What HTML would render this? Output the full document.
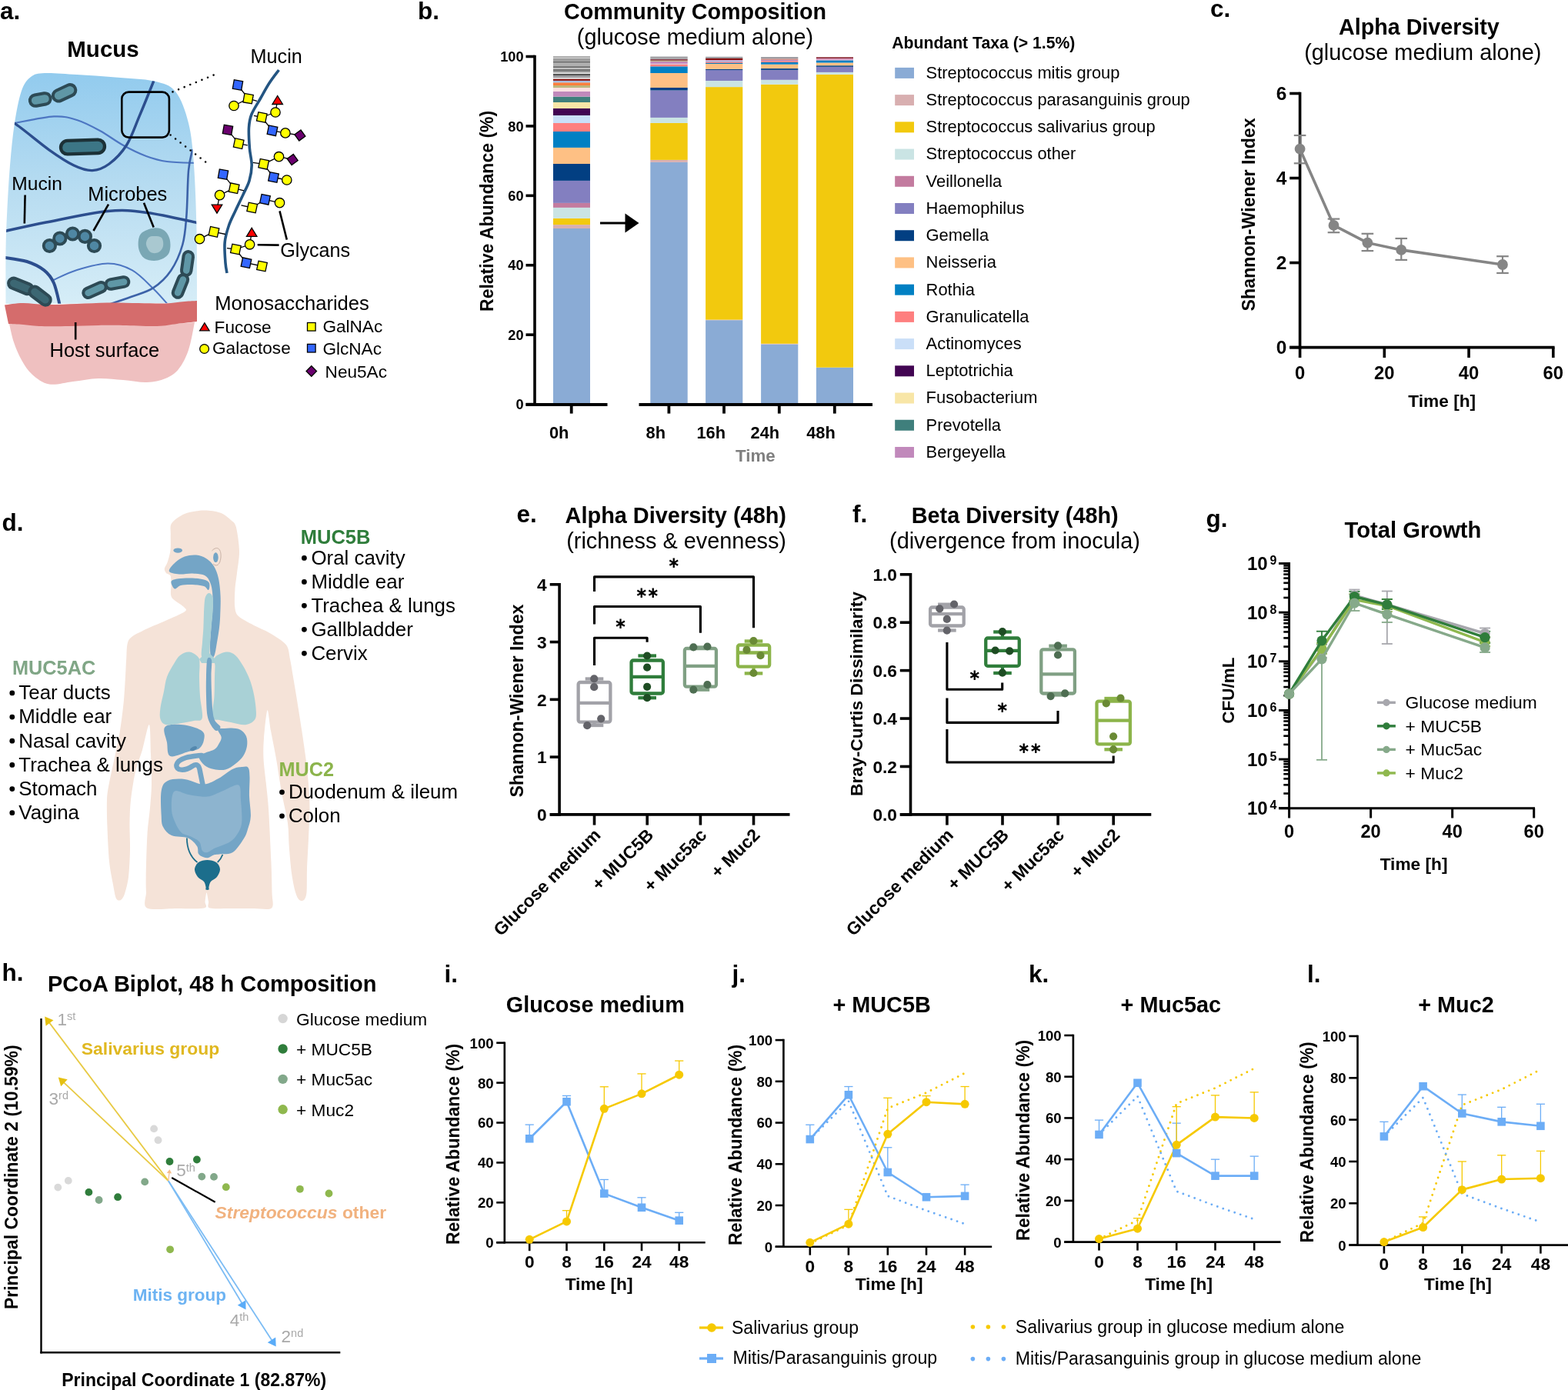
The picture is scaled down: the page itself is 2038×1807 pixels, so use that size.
<!DOCTYPE html>
<html><head><meta charset="utf-8"><title>Figure</title>
<style>
html,body{margin:0;padding:0;background:#fff;}
svg{display:block;}
text{font-family:"Liberation Sans",Arial,Helvetica,sans-serif;}
</style></head>
<body>
<svg xmlns="http://www.w3.org/2000/svg" width="2038" height="1807" viewBox="0 0 2038 1807">
<rect width="2038" height="1807" fill="#fff"/>
<text x="0" y="24.5" font-size="31.5" style="font-weight:bold;">a.</text>
<text x="87.3" y="73.6" font-size="29.5" style="font-weight:bold;">Mucus</text>
<defs><linearGradient id="mg" x1="0" y1="0" x2="0" y2="1"><stop offset="0" stop-color="#92cbee"/><stop offset="0.5" stop-color="#b7dcf1"/><stop offset="1" stop-color="#d6edf7"/></linearGradient><clipPath id="mclip"><path d="M7.5,395 C7.5,384.17 7.25,349.17 7.5,330 C7.75,310.83 8.08,299.17 9,280 C9.92,260.83 11.33,235 13,215 C14.67,195 16.5,176.17 19,160 C21.5,143.83 24.5,128 28,118 C31.5,108 35,103.83 40,100 C45,96.17 48,95.5 58,95 C68,94.5 84.67,96.08 100,97 C115.33,97.92 133.33,99.08 150,100.5 C166.67,101.92 187,102.42 200,105.5 C213,108.58 220.5,109.92 228,119 C235.5,128.08 241,144 245,160 C249,176 250.25,191.67 252,215 C253.75,238.33 254.83,270.17 255.5,300 C256.17,329.83 255.92,378.33 256,394Z"/></clipPath></defs>
<path d="M7.5,395 C7.5,384.17 7.25,349.17 7.5,330 C7.75,310.83 8.08,299.17 9,280 C9.92,260.83 11.33,235 13,215 C14.67,195 16.5,176.17 19,160 C21.5,143.83 24.5,128 28,118 C31.5,108 35,103.83 40,100 C45,96.17 48,95.5 58,95 C68,94.5 84.67,96.08 100,97 C115.33,97.92 133.33,99.08 150,100.5 C166.67,101.92 187,102.42 200,105.5 C213,108.58 220.5,109.92 228,119 C235.5,128.08 241,144 245,160 C249,176 250.25,191.67 252,215 C253.75,238.33 254.83,270.17 255.5,300 C256.17,329.83 255.92,378.33 256,394Z" fill="url(#mg)"/>
<g clip-path="url(#mclip)" fill="none" stroke-linecap="round">
<path d="M19,160 C27.5,158.57 56.5,152.07 70,151.4 C83.5,150.73 90,152.9 100,156 C110,159.1 120.08,164.58 130,170 C139.92,175.42 149.5,183 159.5,188.5 C169.5,194 180.42,199.42 190,203 C199.58,206.58 205.67,208.5 217,210 C228.33,211.5 251.17,211.67 258,212" fill="none" stroke="#4d76c2" stroke-width="2.2"/>
<path d="M69.5,364 C74.58,361.83 88.2,354.58 100,351 C111.8,347.42 128.3,342.43 140.3,342.5 C152.3,342.57 162.05,345.82 172,351.4 C181.95,356.98 192,368.23 200,376 C208,383.77 216.67,394.33 220,398" fill="none" stroke="#4d76c2" stroke-width="2"/>
<path d="M250,195 C249.17,199.5 246.27,207.83 245,222 C243.73,236.17 243.68,264 242.4,280 C241.12,296 240.7,306 237.3,318 C233.9,330 228.38,342.6 222,352 C215.62,361.4 207.67,368.73 199,374.4 C190.33,380.07 180.67,382.07 170,386 C159.33,389.93 140.83,396 135,398" fill="none" stroke="#3c62a8" stroke-width="2.6"/>
<path d="M4,157 C6.5,157.57 9.03,154.1 19,160.4 C28.97,166.7 50.97,185.7 63.8,194.8 C76.63,203.9 86.63,210.53 96,215 C105.37,219.47 112.33,221.93 120,221.6 C127.67,221.27 134.57,218.52 142,213 C149.43,207.48 158.1,198.77 164.6,188.5 C171.1,178.23 175.15,165.23 181,151.4 C186.85,137.57 196.03,114.73 199.7,105.5 C203.37,96.27 202.45,97.58 203,96" fill="none" stroke="#2c4e8e" stroke-width="3.4"/>
<path d="M4,301 C13.33,299 37.33,293.42 60,289 C82.67,284.58 118.1,276.58 140,274.5 C161.9,272.42 171.73,273.92 191.4,276.5 C211.07,279.08 246.9,287.75 258,290" fill="none" stroke="#2c4e8e" stroke-width="3.6"/>
<path d="M4,334.5 C9.17,335.42 26.1,337.18 35,340 C43.9,342.82 51.57,346.73 57.4,351.4 C63.23,356.07 66.57,360.23 70,368 C73.43,375.77 76.67,393 78,398" fill="none" stroke="#2c4e8e" stroke-width="4"/>
</g>
<path d="M12,421 C13,425 15.33,437.17 18,445 C20.67,452.83 24,461 28,468 C32,475 36,481.75 42,487 C48,492.25 55.17,498 64,499.5 C72.83,501 84.4,497.25 95,496 C105.6,494.75 116.77,492.33 127.6,492 C138.43,491.67 149.43,493.17 160,494 C170.57,494.83 181.83,497.33 191,497 C200.17,496.67 208.17,494.83 215,492 C221.83,489.17 227,486.17 232,480 C237,473.83 241.5,465.17 245,455 C248.5,444.83 251.67,425 253,419 L230,421 L12,421Z" fill="#efc0c0"/>
<path d="M6,396.5 C10,396.08 21,394.08 30,394 C39,393.92 48.33,395.83 60,396 C71.67,396.17 86.67,395.42 100,395 C113.33,394.58 126.67,393.67 140,393.5 C153.33,393.33 167.5,393.83 180,394 C192.5,394.17 205,394.83 215,394.5 C225,394.17 233.17,392.58 240,392 C246.83,391.42 253.33,391.17 256,391 L256,418 256,418 C251.67,418.5 238.67,420 230,421 C221.33,422 215.67,423.67 204,424 C192.33,424.33 172.73,423.17 160,423 C147.27,422.83 139.27,422.83 127.6,423 C115.93,423.17 102.77,423.83 90,424 C77.23,424.17 61,424.33 51,424 C41,423.67 36.67,422.5 30,422 C23.33,421.5 14.17,421.17 11,421Z" fill="#d56c6c"/>
<rect x="38.8" y="122.25" width="27" height="14.5" rx="7.25" fill="#5f97a6" stroke="#2d4a55" stroke-width="4" transform="rotate(-10 52.3 129.5)"/>
<rect x="68.1" y="113.55" width="31" height="14.5" rx="7.25" fill="#5f97a6" stroke="#2d4a55" stroke-width="4" transform="rotate(-25 83.6 120.8)"/>
<rect x="79" y="182.25" width="57" height="17.5" rx="8.75" fill="#3c7686" stroke="#1c3137" stroke-width="4.3" transform="rotate(-2 107.5 191)"/>
<circle cx="64.4" cy="319.5" r="7.7" fill="#4f87a3" stroke="#2d4a55" stroke-width="3.8"/>
<circle cx="77.8" cy="310" r="7.7" fill="#4f87a3" stroke="#2d4a55" stroke-width="3.8"/>
<circle cx="94.4" cy="304" r="7.7" fill="#4f87a3" stroke="#2d4a55" stroke-width="3.8"/>
<circle cx="110.4" cy="307.4" r="7.7" fill="#4f87a3" stroke="#2d4a55" stroke-width="3.8"/>
<circle cx="122.5" cy="319.5" r="7.7" fill="#4f87a3" stroke="#2d4a55" stroke-width="3.8"/>
<path d="M200.3,296.5 C205.47,295.83 210.55,297.25 214,300 C217.45,302.75 220.17,308 221,313 C221.83,318 221.67,325.75 219,330 C216.33,334.25 210.17,337.5 205,338.5 C199.83,339.5 192.17,338.75 188,336 C183.83,333.25 180.83,327.33 180,322 C179.17,316.67 179.62,308.25 183,304 C186.38,299.75 195.13,297.17 200.3,296.5Z" fill="#7aa7b4"/>
<path d="M200,307 C202.83,307 208,306.83 210,309 C212,311.17 212.67,316.83 212,320 C211.33,323.17 208.67,326.67 206,328 C203.33,329.33 198.67,329.67 196,328 C193.33,326.33 190.5,321.17 190,318 C189.5,314.83 191.33,310.83 193,309 C194.67,307.17 197.17,307 200,307Z" fill="#a9c8d0"/>
<rect x="10.3" y="365.15" width="33" height="13.5" rx="6.75" fill="#3c6773" stroke="#2d4a55" stroke-width="4" transform="rotate(22 26.8 371.9)"/>
<rect x="36.5" y="377.85" width="31" height="13.5" rx="6.75" fill="#3c6773" stroke="#2d4a55" stroke-width="4" transform="rotate(37 52 384.6)"/>
<rect x="107.5" y="370.75" width="31" height="12.5" rx="6.25" fill="#5f97a6" stroke="#2d4a55" stroke-width="4" transform="rotate(-24 123 377)"/>
<rect x="137.5" y="361.75" width="30" height="12.5" rx="6.25" fill="#5f97a6" stroke="#2d4a55" stroke-width="4" transform="rotate(-10 152.5 368)"/>
<rect x="228" y="336.25" width="31" height="12.5" rx="6.25" fill="#5f97a6" stroke="#2d4a55" stroke-width="4" transform="rotate(-82 243.5 342.5)"/>
<rect x="219" y="365.75" width="31" height="12.5" rx="6.25" fill="#5f97a6" stroke="#2d4a55" stroke-width="4" transform="rotate(-68 234.5 372)"/>
<rect x="158.3" y="119.6" width="61.6" height="59" rx="9" fill="none" stroke="#000" stroke-width="2.6"/>
<line x1="224.5" y1="119.4" x2="281" y2="96.2" stroke="#000" stroke-width="2.6" stroke-linecap="round" stroke-dasharray="0 8.2"/>
<line x1="221.6" y1="175.5" x2="272.5" y2="214.6" stroke="#000" stroke-width="2.6" stroke-linecap="round" stroke-dasharray="0 8.2"/>
<text x="15.3" y="247.2" font-size="24.6">Mucin</text>
<line x1="32.6" y1="253.5" x2="31.8" y2="290.5" stroke="#000" stroke-width="2.6"/>
<text x="114.3" y="261.2" font-size="25.4">Microbes</text>
<line x1="141" y1="265.6" x2="121.5" y2="300" stroke="#000" stroke-width="2.6"/>
<line x1="187" y1="263.7" x2="199.7" y2="295.5" stroke="#000" stroke-width="2.6"/>
<text x="64.6" y="463.7" font-size="25.4">Host surface</text>
<line x1="98.2" y1="419" x2="98.2" y2="441.5" stroke="#000" stroke-width="2.6"/>
<text x="325.6" y="82.1" font-size="25.2">Mucin</text>
<path d="M362.4,91 C360.33,93.83 353.98,101.83 350,108 C346.02,114.17 342.33,121.25 338.5,128 C334.67,134.75 329.5,142.17 327,148.5 C324.5,154.83 323.93,158.62 323.5,166 C323.07,173.38 323.78,184.63 324.4,192.8 C325.02,200.97 327.27,207.97 327.2,215 C327.13,222.03 325.87,228.67 324,235 C322.13,241.33 319,246.5 316,253 C313,259.5 309.08,267.33 306,274 C302.92,280.67 299.8,286.17 297.5,293 C295.2,299.83 292.95,306.88 292.2,315 C291.45,323.12 292.53,335.03 293,341.7 C293.47,348.37 294.67,352.78 295,355" fill="none" stroke="#245582" stroke-width="3.6"/>
<line x1="309" y1="110.5" x2="322.6" y2="128.2" stroke="#000" stroke-width="1.3"/>
<line x1="304" y1="137.5" x2="322.6" y2="128.2" stroke="#000" stroke-width="1.3"/>
<line x1="322.6" y1="128.2" x2="334" y2="131.3" stroke="#000" stroke-width="1.3"/>
<line x1="330" y1="150.3" x2="340.3" y2="152.5" stroke="#000" stroke-width="1.3"/>
<line x1="340.3" y1="152.5" x2="358" y2="146" stroke="#000" stroke-width="1.3"/>
<line x1="358" y1="146" x2="360.7" y2="130" stroke="#000" stroke-width="1.3"/>
<line x1="340.3" y1="152.5" x2="354" y2="169.8" stroke="#000" stroke-width="1.3"/>
<line x1="354" y1="169.8" x2="370.9" y2="172.9" stroke="#000" stroke-width="1.3"/>
<line x1="370.9" y1="172.9" x2="389.9" y2="176" stroke="#000" stroke-width="1.3"/>
<line x1="296" y1="168.9" x2="310.2" y2="186.6" stroke="#000" stroke-width="1.3"/>
<line x1="310.2" y1="186.6" x2="321.7" y2="188.8" stroke="#000" stroke-width="1.3"/>
<line x1="328.8" y1="211.4" x2="342.7" y2="213.3" stroke="#000" stroke-width="1.3"/>
<line x1="342.7" y1="213.3" x2="362.5" y2="203.7" stroke="#000" stroke-width="1.3"/>
<line x1="362.5" y1="203.7" x2="380.2" y2="207.5" stroke="#000" stroke-width="1.3"/>
<line x1="342.7" y1="213.3" x2="355.5" y2="230.5" stroke="#000" stroke-width="1.3"/>
<line x1="355.5" y1="230.5" x2="372.8" y2="234" stroke="#000" stroke-width="1.3"/>
<line x1="290" y1="226.6" x2="304.2" y2="244.7" stroke="#000" stroke-width="1.3"/>
<line x1="285.6" y1="253.6" x2="304.2" y2="244.7" stroke="#000" stroke-width="1.3"/>
<line x1="304.2" y1="244.7" x2="317" y2="247.8" stroke="#000" stroke-width="1.3"/>
<line x1="285.6" y1="253.6" x2="282" y2="271.7" stroke="#000" stroke-width="1.3"/>
<line x1="313.5" y1="266.8" x2="327.7" y2="270" stroke="#000" stroke-width="1.3"/>
<line x1="327.7" y1="270" x2="344.5" y2="259.3" stroke="#000" stroke-width="1.3"/>
<line x1="344.5" y1="259.3" x2="363.5" y2="263.7" stroke="#000" stroke-width="1.3"/>
<line x1="259.5" y1="310.7" x2="278" y2="301.4" stroke="#000" stroke-width="1.3"/>
<line x1="278" y1="301.4" x2="293" y2="304.5" stroke="#000" stroke-width="1.3"/>
<line x1="295" y1="322.6" x2="306.4" y2="324" stroke="#000" stroke-width="1.3"/>
<line x1="306.4" y1="324" x2="324.6" y2="317.8" stroke="#000" stroke-width="1.3"/>
<line x1="324.6" y1="317.8" x2="327.2" y2="301.8" stroke="#000" stroke-width="1.3"/>
<line x1="306.4" y1="324" x2="320" y2="341.7" stroke="#000" stroke-width="1.3"/>
<line x1="320" y1="341.7" x2="340.5" y2="346" stroke="#000" stroke-width="1.3"/>
<rect x="303.25" y="104.75" width="11.5" height="11.5" fill="#3366ff" stroke="#000" stroke-width="1.3" transform="rotate(10 309 110.5)"/>
<rect x="316.85" y="122.45" width="11.5" height="11.5" fill="#ffff00" stroke="#000" stroke-width="1.3" transform="rotate(10 322.6 128.2)"/>
<circle cx="304" cy="137.5" r="6.2" fill="#ffff00" stroke="#000" stroke-width="1.3"/>
<rect x="334.55" y="146.75" width="11.5" height="11.5" fill="#ffff00" stroke="#000" stroke-width="1.3" transform="rotate(12 340.3 152.5)"/>
<circle cx="358" cy="146" r="6.2" fill="#ffff00" stroke="#000" stroke-width="1.3"/>
<polygon points="360.7,124.5 367.45,135.5 353.95,135.5" fill="#ff0000" stroke="#000" stroke-width="1.3"/>
<rect x="348.25" y="164.05" width="11.5" height="11.5" fill="#3366ff" stroke="#000" stroke-width="1.3" transform="rotate(12 354 169.8)"/>
<circle cx="370.9" cy="172.9" r="6.2" fill="#ffff00" stroke="#000" stroke-width="1.3"/>
<rect x="384.9" y="171" width="10" height="10" fill="#6a006e" stroke="#000" stroke-width="1.3" transform="rotate(-36 389.9 176)"/>
<rect x="290.25" y="163.15" width="11.5" height="11.5" fill="#6a006e" stroke="#000" stroke-width="1.3" transform="rotate(10 296 168.9)"/>
<rect x="304.45" y="180.85" width="11.5" height="11.5" fill="#ffff00" stroke="#000" stroke-width="1.3" transform="rotate(12 310.2 186.6)"/>
<rect x="336.95" y="207.55" width="11.5" height="11.5" fill="#ffff00" stroke="#000" stroke-width="1.3" transform="rotate(12 342.7 213.3)"/>
<circle cx="362.5" cy="203.7" r="6.2" fill="#ffff00" stroke="#000" stroke-width="1.3"/>
<rect x="375.2" y="202.5" width="10" height="10" fill="#6a006e" stroke="#000" stroke-width="1.3" transform="rotate(-36 380.2 207.5)"/>
<rect x="349.75" y="224.75" width="11.5" height="11.5" fill="#3366ff" stroke="#000" stroke-width="1.3" transform="rotate(12 355.5 230.5)"/>
<circle cx="372.8" cy="234" r="6.2" fill="#ffff00" stroke="#000" stroke-width="1.3"/>
<rect x="284.25" y="220.85" width="11.5" height="11.5" fill="#3366ff" stroke="#000" stroke-width="1.3" transform="rotate(10 290 226.6)"/>
<rect x="298.45" y="238.95" width="11.5" height="11.5" fill="#ffff00" stroke="#000" stroke-width="1.3" transform="rotate(12 304.2 244.7)"/>
<circle cx="285.6" cy="253.6" r="6.2" fill="#ffff00" stroke="#000" stroke-width="1.3"/>
<polygon points="282,277.2 288.75,266.2 275.25,266.2" fill="#ff0000" stroke="#000" stroke-width="1.3"/>
<rect x="321.95" y="264.25" width="11.5" height="11.5" fill="#ffff00" stroke="#000" stroke-width="1.3" transform="rotate(12 327.7 270)"/>
<rect x="338.75" y="253.55" width="11.5" height="11.5" fill="#3366ff" stroke="#000" stroke-width="1.3" transform="rotate(12 344.5 259.3)"/>
<circle cx="363.5" cy="263.7" r="6.2" fill="#ffff00" stroke="#000" stroke-width="1.3"/>
<rect x="272.25" y="295.65" width="11.5" height="11.5" fill="#ffff00" stroke="#000" stroke-width="1.3" transform="rotate(12 278 301.4)"/>
<circle cx="259.5" cy="310.7" r="6.2" fill="#ffff00" stroke="#000" stroke-width="1.3"/>
<rect x="300.65" y="318.25" width="11.5" height="11.5" fill="#ffff00" stroke="#000" stroke-width="1.3" transform="rotate(12 306.4 324)"/>
<circle cx="324.6" cy="317.8" r="6.2" fill="#ffff00" stroke="#000" stroke-width="1.3"/>
<polygon points="327.2,296.3 333.95,307.3 320.45,307.3" fill="#ff0000" stroke="#000" stroke-width="1.3"/>
<rect x="314.25" y="335.95" width="11.5" height="11.5" fill="#3366ff" stroke="#000" stroke-width="1.3" transform="rotate(12 320 341.7)"/>
<rect x="334.75" y="340.25" width="11.5" height="11.5" fill="#ffff00" stroke="#000" stroke-width="1.3" transform="rotate(12 340.5 346)"/>
<line x1="363.5" y1="274.4" x2="372.8" y2="311.6" stroke="#000" stroke-width="2.6"/>
<line x1="334.7" y1="318.2" x2="362.6" y2="318.6" stroke="#000" stroke-width="2.6"/>
<text x="364.2" y="333.8" font-size="25.2">Glycans</text>
<text x="279.3" y="402.8" font-size="25.6">Monosaccharides</text>
<polygon points="265.9,419.74 272.11,429.86 259.69,429.86" fill="#ff0000" stroke="#000" stroke-width="1.3"/>
<text x="278.6" y="433" font-size="22.6">Fucose</text>
<circle cx="265.6" cy="453.5" r="5.89" fill="#ffff00" stroke="#000" stroke-width="1.3"/>
<text x="276" y="459.8" font-size="22.6">Galactose</text>
<rect x="399.51" y="419.51" width="10.58" height="10.58" fill="#ffff00" stroke="#000" stroke-width="1.3" transform="rotate(0 404.8 424.8)"/>
<text x="419.4" y="431.8" font-size="22.6">GalNAc</text>
<rect x="399.51" y="447.41" width="10.58" height="10.58" fill="#3366ff" stroke="#000" stroke-width="1.3" transform="rotate(0 404.8 452.7)"/>
<text x="419.4" y="461.1" font-size="22.6">GlcNAc</text>
<rect x="400.05" y="477.75" width="9.5" height="9.5" fill="#6a006e" stroke="#000" stroke-width="1.3" transform="rotate(45 404.8 482.5)"/>
<text x="422.6" y="491.1" font-size="22.6">Neu5Ac</text>
<text x="543" y="24.5" font-size="31.5" style="font-weight:bold;">b.</text>
<text x="903.5" y="25.3" font-size="28.7" text-anchor="middle" style="font-weight:bold;">Community Composition</text>
<text x="903.5" y="58" font-size="28.8" text-anchor="middle">(glucose medium alone)</text>
<rect x="719" y="297" width="48" height="228.6" fill="#8aabd5"/>
<rect x="719" y="292.1" width="48" height="4.9" fill="#d8afb0"/>
<rect x="719" y="283.8" width="48" height="8.3" fill="#f2c90e"/>
<rect x="719" y="269.9" width="48" height="13.9" fill="#cae4e4"/>
<rect x="719" y="263.9" width="48" height="6" fill="#c37b9f"/>
<rect x="719" y="234.9" width="48" height="29" fill="#837fc0"/>
<rect x="719" y="213" width="48" height="21.9" fill="#023f82"/>
<rect x="719" y="191.9" width="48" height="21.1" fill="#fec084"/>
<rect x="719" y="171" width="48" height="20.9" fill="#0180c3"/>
<rect x="719" y="160" width="48" height="11" fill="#fe7f7f"/>
<rect x="719" y="150" width="48" height="10" fill="#cadff8"/>
<rect x="719" y="141" width="48" height="9" fill="#420552"/>
<rect x="719" y="133" width="48" height="8" fill="#f8e6a7"/>
<rect x="719" y="125.6" width="48" height="7.4" fill="#3f7f7c"/>
<rect x="719" y="118.8" width="48" height="6.8" fill="#c189bb"/>
<rect x="719" y="114.1" width="48" height="4.7" fill="#fde0e2"/>
<rect x="719" y="111" width="48" height="3.1" fill="#bdb67c"/>
<rect x="719" y="107.3" width="48" height="3.7" fill="#fb7e3c"/>
<rect x="719" y="104.8" width="48" height="2.5" fill="#a4b9dc"/>
<rect x="719" y="102.6" width="48" height="2.2" fill="#800000"/>
<rect x="719" y="73.2" width="48" height="1.3" fill="#8c8c8c"/>
<rect x="719" y="74.5" width="48" height="0.9" fill="#cfcfcf"/>
<rect x="719" y="75.4" width="48" height="1" fill="#8a8a8a"/>
<rect x="719" y="76.4" width="48" height="0.5" fill="#b8b8b8"/>
<rect x="719" y="76.9" width="48" height="1.4" fill="#7e7e7e"/>
<rect x="719" y="78.3" width="48" height="0.6" fill="#cdcdcd"/>
<rect x="719" y="78.9" width="48" height="1.3" fill="#6c6c6c"/>
<rect x="719" y="80.2" width="48" height="0.5" fill="#a8a8a8"/>
<rect x="719" y="80.7" width="48" height="1.3" fill="#686868"/>
<rect x="719" y="82" width="48" height="1.6" fill="#c4c4c4"/>
<rect x="719" y="83.6" width="48" height="1.1" fill="#727272"/>
<rect x="719" y="84.7" width="48" height="0.9" fill="#c8c8c8"/>
<rect x="719" y="85.6" width="48" height="3.1" fill="#787878"/>
<rect x="719" y="88.7" width="48" height="1.1" fill="#e2e2e2"/>
<rect x="719" y="89.8" width="48" height="2.7" fill="#6e6e6e"/>
<rect x="719" y="92.5" width="48" height="1.7" fill="#8a8a8a"/>
<rect x="719" y="94.2" width="48" height="1.8" fill="#dcdcdc"/>
<rect x="719" y="96" width="48" height="2.6" fill="#555555"/>
<rect x="719" y="98.6" width="48" height="2.3" fill="#9b9ba0"/>
<rect x="719" y="100.9" width="48" height="1.7" fill="#d9d9d9"/>
<rect x="845.3" y="210.9" width="48.4" height="314.7" fill="#8aabd5"/>
<rect x="845.3" y="207.9" width="48.4" height="3" fill="#d8afb0"/>
<rect x="845.3" y="159.9" width="48.4" height="48" fill="#f2c90e"/>
<rect x="845.3" y="152.9" width="48.4" height="7" fill="#cae4e4"/>
<rect x="845.3" y="117.5" width="48.4" height="35.4" fill="#837fc0"/>
<rect x="845.3" y="114" width="48.4" height="3.5" fill="#023f82"/>
<rect x="845.3" y="95" width="48.4" height="19" fill="#fec084"/>
<rect x="845.3" y="86.3" width="48.4" height="8.7" fill="#0180c3"/>
<rect x="845.3" y="84" width="48.4" height="2.3" fill="#fe7f7f"/>
<rect x="845.3" y="82.8" width="48.4" height="1.2" fill="#e8c0d0"/>
<rect x="845.3" y="79.9" width="48.4" height="2.9" fill="#c189bb"/>
<rect x="845.3" y="78.8" width="48.4" height="1.1" fill="#bdb67c"/>
<rect x="845.3" y="76.8" width="48.4" height="2" fill="#8b4048"/>
<rect x="845.3" y="73.5" width="48.4" height="3.3" fill="#a2a2a6"/>
<rect x="917.1" y="416.2" width="48.2" height="109.4" fill="#8aabd5"/>
<rect x="917.1" y="415.6" width="48.2" height="0.6" fill="#d8afb0"/>
<rect x="917.1" y="113.1" width="48.2" height="302.5" fill="#f2c90e"/>
<rect x="917.1" y="105" width="48.2" height="8.1" fill="#cae4e4"/>
<rect x="917.1" y="91.1" width="48.2" height="13.9" fill="#837fc0"/>
<rect x="917.1" y="89.9" width="48.2" height="1.2" fill="#023f82"/>
<rect x="917.1" y="83" width="48.2" height="6.9" fill="#fec084"/>
<rect x="917.1" y="82" width="48.2" height="1" fill="#0180c3"/>
<rect x="917.1" y="80.8" width="48.2" height="1.2" fill="#fe7f7f"/>
<rect x="917.1" y="79.4" width="48.2" height="1.4" fill="#a898c0"/>
<rect x="917.1" y="77.9" width="48.2" height="1.5" fill="#c4a0cc"/>
<rect x="917.1" y="75.8" width="48.2" height="2.1" fill="#800000"/>
<rect x="917.1" y="73.8" width="48.2" height="2" fill="#98989c"/>
<rect x="989.1" y="447.5" width="48.2" height="78.1" fill="#8aabd5"/>
<rect x="989.1" y="446.8" width="48.2" height="0.7" fill="#d8afb0"/>
<rect x="989.1" y="109.7" width="48.2" height="337.1" fill="#f2c90e"/>
<rect x="989.1" y="103.8" width="48.2" height="5.9" fill="#cae4e4"/>
<rect x="989.1" y="91.1" width="48.2" height="12.7" fill="#837fc0"/>
<rect x="989.1" y="89" width="48.2" height="2.1" fill="#1e4f8c"/>
<rect x="989.1" y="83.7" width="48.2" height="5.3" fill="#fec084"/>
<rect x="989.1" y="81" width="48.2" height="2.7" fill="#0180c3"/>
<rect x="989.1" y="79.3" width="48.2" height="1.7" fill="#fe7f7f"/>
<rect x="989.1" y="78" width="48.2" height="1.3" fill="#c189bb"/>
<rect x="989.1" y="76.3" width="48.2" height="1.7" fill="#d49088"/>
<rect x="989.1" y="74.1" width="48.2" height="2.2" fill="#98989e"/>
<rect x="1060.9" y="477.7" width="48.1" height="47.9" fill="#8aabd5"/>
<rect x="1060.9" y="96.8" width="48.1" height="380.9" fill="#f2c90e"/>
<rect x="1060.9" y="93.9" width="48.1" height="2.9" fill="#cae4e4"/>
<rect x="1060.9" y="87" width="48.1" height="6.9" fill="#837fc0"/>
<rect x="1060.9" y="85.1" width="48.1" height="1.9" fill="#2c5a90"/>
<rect x="1060.9" y="81.5" width="48.1" height="3.6" fill="#fec084"/>
<rect x="1060.9" y="78.4" width="48.1" height="3.1" fill="#0180c3"/>
<rect x="1060.9" y="76" width="48.1" height="2.4" fill="#d8a0c4"/>
<rect x="1060.9" y="74.3" width="48.1" height="1.7" fill="#8b2a35"/>
<line x1="695" y1="71.8" x2="695" y2="527.8" stroke="#000" stroke-width="3.6"/>
<line x1="683.5" y1="525.6" x2="695" y2="525.6" stroke="#000" stroke-width="3.6"/>
<text x="680.6" y="532.2" font-size="18.2" text-anchor="end" style="font-weight:bold;">0</text>
<line x1="683.5" y1="435.18" x2="695" y2="435.18" stroke="#000" stroke-width="3.6"/>
<text x="680.6" y="441.78" font-size="18.2" text-anchor="end" style="font-weight:bold;">20</text>
<line x1="683.5" y1="344.76" x2="695" y2="344.76" stroke="#000" stroke-width="3.6"/>
<text x="680.6" y="351.36" font-size="18.2" text-anchor="end" style="font-weight:bold;">40</text>
<line x1="683.5" y1="254.34" x2="695" y2="254.34" stroke="#000" stroke-width="3.6"/>
<text x="680.6" y="260.94" font-size="18.2" text-anchor="end" style="font-weight:bold;">60</text>
<line x1="683.5" y1="163.92" x2="695" y2="163.92" stroke="#000" stroke-width="3.6"/>
<text x="680.6" y="170.52" font-size="18.2" text-anchor="end" style="font-weight:bold;">80</text>
<line x1="683.5" y1="73.5" x2="695" y2="73.5" stroke="#000" stroke-width="3.6"/>
<text x="680.6" y="80.1" font-size="18.2" text-anchor="end" style="font-weight:bold;">100</text>
<line x1="683.5" y1="526" x2="789.5" y2="526" stroke="#000" stroke-width="3.8"/>
<line x1="830.5" y1="526" x2="1134" y2="526" stroke="#000" stroke-width="3.8"/>
<line x1="742.7" y1="526" x2="742.7" y2="537.6" stroke="#000" stroke-width="3.8"/>
<line x1="869.4" y1="526" x2="869.4" y2="537.6" stroke="#000" stroke-width="3.8"/>
<line x1="941" y1="526" x2="941" y2="537.6" stroke="#000" stroke-width="3.8"/>
<line x1="1012.8" y1="526" x2="1012.8" y2="537.6" stroke="#000" stroke-width="3.8"/>
<line x1="1084.8" y1="526" x2="1084.8" y2="537.6" stroke="#000" stroke-width="3.8"/>
<text x="714" y="570.3" font-size="21.8" style="font-weight:bold;">0h</text>
<text x="839.6" y="570.3" font-size="21.8" style="font-weight:bold;">8h</text>
<text x="905.4" y="570.3" font-size="21.8" style="font-weight:bold;">16h</text>
<text x="975.6" y="570.3" font-size="21.8" style="font-weight:bold;">24h</text>
<text x="1048.2" y="570.3" font-size="21.8" style="font-weight:bold;">48h</text>
<text x="981.8" y="600.4" font-size="22.3" text-anchor="middle" fill="#7f7f7f" style="font-weight:bold;">Time</text>
<text transform="translate(641 274.4) rotate(-90)" font-size="23" text-anchor="middle" style="font-weight:bold;">Relative Abundance (%)</text>
<line x1="780" y1="290" x2="814" y2="290" stroke="#000" stroke-width="3.2"/>
<polygon points="812.5,277.5 830.5,290 812.5,302.5" fill="#000"/>
<text x="1159.3" y="63.1" font-size="21.2" style="font-weight:bold;">Abundant Taxa (&gt; 1.5%)</text>
<rect x="1163.2" y="87.9" width="24.8" height="14" fill="#8aabd5"/>
<text x="1203.6" y="101.8" font-size="21.9">Streptococcus mitis group</text>
<rect x="1163.2" y="123.12" width="24.8" height="14" fill="#d8afb0"/>
<text x="1203.6" y="137.02" font-size="21.9">Streptococcus parasanguinis group</text>
<rect x="1163.2" y="158.34" width="24.8" height="14" fill="#f2c90e"/>
<text x="1203.6" y="172.24" font-size="21.9">Streptococcus salivarius group</text>
<rect x="1163.2" y="193.56" width="24.8" height="14" fill="#cae4e4"/>
<text x="1203.6" y="207.46" font-size="21.9">Streptococcus other</text>
<rect x="1163.2" y="228.78" width="24.8" height="14" fill="#c37b9f"/>
<text x="1203.6" y="242.68" font-size="21.9">Veillonella</text>
<rect x="1163.2" y="264" width="24.8" height="14" fill="#837fc0"/>
<text x="1203.6" y="277.9" font-size="21.9">Haemophilus</text>
<rect x="1163.2" y="299.22" width="24.8" height="14" fill="#023f82"/>
<text x="1203.6" y="313.12" font-size="21.9">Gemella</text>
<rect x="1163.2" y="334.44" width="24.8" height="14" fill="#fec084"/>
<text x="1203.6" y="348.34" font-size="21.9">Neisseria</text>
<rect x="1163.2" y="369.66" width="24.8" height="14" fill="#0180c3"/>
<text x="1203.6" y="383.56" font-size="21.9">Rothia</text>
<rect x="1163.2" y="404.88" width="24.8" height="14" fill="#fe7f7f"/>
<text x="1203.6" y="418.78" font-size="21.9">Granulicatella</text>
<rect x="1163.2" y="440.1" width="24.8" height="14" fill="#cadff8"/>
<text x="1203.6" y="454" font-size="21.9">Actinomyces</text>
<rect x="1163.2" y="475.32" width="24.8" height="14" fill="#420552"/>
<text x="1203.6" y="489.22" font-size="21.9">Leptotrichia</text>
<rect x="1163.2" y="510.54" width="24.8" height="14" fill="#f8e6a7"/>
<text x="1203.6" y="524.44" font-size="21.9">Fusobacterium</text>
<rect x="1163.2" y="545.76" width="24.8" height="14" fill="#3f7f7c"/>
<text x="1203.6" y="559.66" font-size="21.9">Prevotella</text>
<rect x="1163.2" y="580.98" width="24.8" height="14" fill="#c189bb"/>
<text x="1203.6" y="594.88" font-size="21.9">Bergeyella</text>
<text x="1573" y="21.7" font-size="31.5" style="font-weight:bold;">c.</text>
<text x="1844.4" y="45" font-size="28.7" text-anchor="middle" style="font-weight:bold;">Alpha Diversity</text>
<text x="1849.3" y="77.5" font-size="28.9" text-anchor="middle">(glucose medium alone)</text>
<line x1="1689.6" y1="119.8" x2="1689.6" y2="453.4" stroke="#000" stroke-width="3.6"/>
<line x1="1676.2" y1="451.6" x2="1689.6" y2="451.6" stroke="#000" stroke-width="3.6"/>
<text x="1672.3" y="460.4" font-size="24.5" text-anchor="end" style="font-weight:bold;">0</text>
<line x1="1676.2" y1="341.57" x2="1689.6" y2="341.57" stroke="#000" stroke-width="3.6"/>
<text x="1672.3" y="350.37" font-size="24.5" text-anchor="end" style="font-weight:bold;">2</text>
<line x1="1676.2" y1="231.53" x2="1689.6" y2="231.53" stroke="#000" stroke-width="3.6"/>
<text x="1672.3" y="240.33" font-size="24.5" text-anchor="end" style="font-weight:bold;">4</text>
<line x1="1676.2" y1="121.5" x2="1689.6" y2="121.5" stroke="#000" stroke-width="3.6"/>
<text x="1672.3" y="130.3" font-size="24.5" text-anchor="end" style="font-weight:bold;">6</text>
<line x1="1676.2" y1="451.6" x2="2020.6" y2="451.6" stroke="#000" stroke-width="3.6"/>
<line x1="1689.6" y1="451.6" x2="1689.6" y2="465" stroke="#000" stroke-width="3.6"/>
<text x="1689.6" y="492.9" font-size="23.8" text-anchor="middle" style="font-weight:bold;">0</text>
<line x1="1799.33" y1="451.6" x2="1799.33" y2="465" stroke="#000" stroke-width="3.6"/>
<text x="1799.33" y="492.9" font-size="23.8" text-anchor="middle" style="font-weight:bold;">20</text>
<line x1="1909.07" y1="451.6" x2="1909.07" y2="465" stroke="#000" stroke-width="3.6"/>
<text x="1909.07" y="492.9" font-size="23.8" text-anchor="middle" style="font-weight:bold;">40</text>
<line x1="2018.8" y1="451.6" x2="2018.8" y2="465" stroke="#000" stroke-width="3.6"/>
<text x="2018.8" y="492.9" font-size="23.8" text-anchor="middle" style="font-weight:bold;">60</text>
<text x="1874.2" y="528.5" font-size="22.7" text-anchor="middle" style="font-weight:bold;">Time [h]</text>
<text transform="translate(1631 278.9) rotate(-90)" font-size="23.2" text-anchor="middle" style="font-weight:bold;">Shannon-Wiener Index</text>
<line x1="1689.6" y1="176" x2="1689.6" y2="212.3" stroke="#858585" stroke-width="2.2"/>
<line x1="1681.8" y1="176" x2="1697.4" y2="176" stroke="#858585" stroke-width="2.2"/>
<line x1="1681.8" y1="212.3" x2="1697.4" y2="212.3" stroke="#858585" stroke-width="2.2"/>
<line x1="1733.49" y1="284.6" x2="1733.49" y2="302.2" stroke="#858585" stroke-width="2.2"/>
<line x1="1725.69" y1="284.6" x2="1741.29" y2="284.6" stroke="#858585" stroke-width="2.2"/>
<line x1="1725.69" y1="302.2" x2="1741.29" y2="302.2" stroke="#858585" stroke-width="2.2"/>
<line x1="1777.39" y1="303.8" x2="1777.39" y2="326.1" stroke="#858585" stroke-width="2.2"/>
<line x1="1769.59" y1="303.8" x2="1785.19" y2="303.8" stroke="#858585" stroke-width="2.2"/>
<line x1="1769.59" y1="326.1" x2="1785.19" y2="326.1" stroke="#858585" stroke-width="2.2"/>
<line x1="1821.28" y1="310" x2="1821.28" y2="337.9" stroke="#858585" stroke-width="2.2"/>
<line x1="1813.48" y1="310" x2="1829.08" y2="310" stroke="#858585" stroke-width="2.2"/>
<line x1="1813.48" y1="337.9" x2="1829.08" y2="337.9" stroke="#858585" stroke-width="2.2"/>
<line x1="1952.96" y1="333.2" x2="1952.96" y2="355" stroke="#858585" stroke-width="2.2"/>
<line x1="1945.16" y1="333.2" x2="1960.76" y2="333.2" stroke="#858585" stroke-width="2.2"/>
<line x1="1945.16" y1="355" x2="1960.76" y2="355" stroke="#858585" stroke-width="2.2"/>
<polyline points="1689.6,193.7 1733.49,292.9 1777.39,315.6 1821.28,324.9 1952.96,344" fill="none" stroke="#858585" stroke-width="3.6" stroke-linejoin="round"/>
<circle cx="1689.6" cy="193.7" r="6.9" fill="#858585"/>
<circle cx="1733.49" cy="292.9" r="6.9" fill="#858585"/>
<circle cx="1777.39" cy="315.6" r="6.9" fill="#858585"/>
<circle cx="1821.28" cy="324.9" r="6.9" fill="#858585"/>
<circle cx="1952.96" cy="344" r="6.9" fill="#858585"/>
<text x="2.5" y="689.6" font-size="31.5" style="font-weight:bold;">d.</text>
<path d="M264.4,663.6 C271.3,663.39 280.66,664.74 286,666.6 C291.34,668.46 296.88,673.24 300,676 C303.12,678.76 305.15,678.94 306.8,685 C308.45,691.06 310.82,707.4 311,716.4 C311.18,725.4 308.82,737.71 308,745 C307.18,752.29 305.92,758.44 305.5,765 C305.08,771.56 304.52,783.29 305.2,788.7 C305.88,794.12 306.28,797.46 310,801.1 C313.72,804.75 323.97,809.75 330,813 C336.03,816.25 343.91,819 350.2,822.8 C356.49,826.59 367.88,833.17 371.9,838.3 C375.92,843.43 375.63,850.75 377,857 C378.37,863.25 379.65,872.05 381,880 C382.35,887.95 384.31,899.5 386,910 C387.69,920.5 390.5,938 392.3,950 C394.1,962 396.69,979.5 398,990 C399.31,1000.5 400.32,1011 401,1020 C401.68,1029 402.5,1039.5 402.5,1050 C402.5,1060.5 401.52,1078 401,1090 C400.48,1102 399.38,1119.5 399,1130 C398.62,1140.5 399.1,1154 398.5,1160 C397.9,1166 396.43,1168.5 395,1170 C393.57,1171.5 390.65,1171.5 389,1170 C387.35,1168.5 385.5,1165.25 384,1160 C382.5,1154.75 380.25,1144 379,1135 C377.75,1126 376.45,1109.75 375.7,1100 C374.95,1090.25 375.45,1080.5 374,1070 C372.55,1059.5 368.25,1042.54 366,1030 C363.75,1017.46 361.1,998.4 359,986.4 C356.9,974.4 353.73,959.47 352,950 C350.27,940.53 348.85,921.8 347.5,923.3 C346.15,924.8 343.75,950.53 343,960 C342.25,969.47 342.05,977.4 342.5,986.4 C342.95,995.4 345.01,1010.04 346,1020 C346.99,1029.96 348.14,1037.92 349.1,1052.8 C350.06,1067.68 351.74,1103.12 352.4,1119.2 C353.06,1135.28 353.41,1150.81 353.5,1160 C353.59,1169.19 356.52,1177.35 353,1180.5 C349.48,1183.65 337.95,1180.92 330,1181 C322.05,1181.08 308.6,1181.08 300,1181 C291.4,1180.92 277.05,1181.85 272.7,1180.5 C268.35,1179.15 271.63,1175 271,1172 C270.37,1169 269.18,1160.5 268.5,1160.5 C267.82,1160.5 266.95,1169 266.5,1172 C266.05,1175 270.98,1179.15 265.5,1180.5 C260.02,1181.85 241.18,1181 230,1181 C218.82,1181 197,1183.65 191,1180.5 C185,1177.35 190.19,1166.08 190,1160 C189.81,1153.92 189.49,1151.1 189.7,1140 C189.91,1128.9 190.61,1099.5 191.4,1086 C192.19,1072.5 194.16,1059.96 195,1050 C195.84,1040.04 196.85,1030.1 197,1019.6 C197.15,1009.1 196.47,991.64 196,980 C195.53,968.36 195.55,942.75 193.9,942 C192.25,941.25 187.69,965.85 185,975 C182.31,984.15 178.25,993.25 176,1003 C173.75,1012.75 171.12,1029.95 170,1040 C168.88,1050.05 168.65,1060.28 168.5,1070 C168.35,1079.72 169.22,1094.3 169,1104.8 C168.78,1115.3 168.05,1131.42 167,1140 C165.95,1148.58 163.5,1157.5 162,1162 C160.5,1166.5 158.65,1169.1 157,1170 C155.35,1170.9 152.5,1171 151,1168 C149.5,1165 148.35,1157.2 147,1150 C145.65,1142.8 143.14,1131.43 142,1120 C140.86,1108.57 139.85,1085.8 139.4,1073.8 C138.95,1061.8 138.67,1048.13 139,1040 C139.33,1031.87 139.95,1028.6 141.6,1019.6 C143.25,1010.6 147.84,990.44 150,980 C152.16,969.56 154.35,960.5 156,950 C157.65,939.5 159.88,922 161,910 C162.12,898 163.02,877.95 163.5,870 C163.98,862.05 163.63,862.68 164.2,857 C164.77,851.32 164.03,837.7 167.3,832.1 C170.57,826.5 178.84,823.47 186,819.7 C193.16,815.94 206.87,810.71 215,807 C223.13,803.29 236.66,797.75 240.2,795 C243.74,792.25 241.16,791.49 238.6,788.7 C236.03,785.91 225.51,780.7 223.1,776.4 C220.69,772.1 222.72,764.18 222.5,760 C222.28,755.82 222.57,750.75 221.6,748.5 C220.62,746.25 217.17,746.39 216,745 C214.83,743.61 213.5,741.45 213.8,739.2 C214.1,736.95 216.83,733.72 218,730 C219.17,726.28 221.03,719.65 221.6,714.4 C222.17,709.15 221.58,700.12 221.8,695 C222.03,689.88 220.37,684.35 223.1,680.3 C225.83,676.25 233.81,670.5 240,668 C246.19,665.5 257.5,663.81 264.4,663.6Z" fill="#f5e3d8"/>
<path d="M275.5,716 C282,709 288,713 287,725 C286,735 281,737 277,733" fill="none" stroke="#c9b2a6" stroke-width="1"/>
<ellipse cx="280.4" cy="724.7" rx="3.3" ry="6.4" fill="#74a5c6"/>
<ellipse cx="231.2" cy="715.6" rx="5.8" ry="3.2" fill="#74a5c6"/>
<path d="M219.8,742.6 C218.97,740.02 224.63,734.18 228,731 C231.37,727.82 235.5,725.08 240,723.5 C244.5,721.92 250.33,721.08 255,721.5 C259.67,721.92 264.17,723.58 268,726 C271.83,728.42 275.33,731.67 278,736 C280.67,740.33 282.57,745.5 284,752 C285.43,758.5 286.23,767 286.6,775 C286.97,783 286.47,793.17 286.2,800 C285.93,806.83 285.7,810.17 285,816 C284.3,821.83 283,829.17 282,835 C281,840.83 280.25,847.5 279,851 C277.75,854.5 275.5,857.83 274.5,856 C273.5,854.17 273.02,846.67 273,840 C272.98,833.33 273.82,824.33 274.4,816 C274.98,807.67 276.23,797.67 276.5,790 C276.77,782.33 276.58,775.5 276,770 C275.42,764.5 274.67,760.67 273,757 C271.33,753.33 269.83,749.92 266,748 C262.17,746.08 255.5,745.75 250,745.5 C244.5,745.25 238.03,746.98 233,746.5 C227.97,746.02 220.63,745.18 219.8,742.6Z" fill="#74a5c6"/>
<path d="M222.5,756 C223.33,753.78 227.42,752.95 232,752.2 C236.58,751.45 244.5,751.28 250,751.5 C255.5,751.72 261.33,752.42 265,753.5 C268.67,754.58 271,755.75 272,758 C273,760.25 272.17,766.33 271,767 C269.83,767.67 268.5,763.17 265,762 C261.5,760.83 255,760.17 250,760 C245,759.83 238.83,760.08 235,761 C231.17,761.92 229.08,766.33 227,765.5 C224.92,764.67 221.67,758.22 222.5,756Z" fill="#74a5c6"/>
<path d="M272,771 C273.6,771.17 275.85,773 276.6,777 C277.35,781 276.83,788.5 276.5,795 C276.17,801.5 275.18,809.33 274.6,816 C274.02,822.67 273.43,829.33 273,835 C272.57,840.67 272.83,846.5 272,850 C271.17,853.5 269.67,855.5 268,856 C266.33,856.5 262.83,856.5 262,853 C261.17,849.5 262.6,841.17 263,835 C263.4,828.83 264.02,823.5 264.4,816 C264.78,808.5 264.87,796.67 265.3,790 C265.73,783.33 265.88,779.17 267,776 C268.12,772.83 270.4,770.83 272,771Z" fill="#a9d1d6"/>
<path d="M257.8,854.5 C255.58,851.73 250.17,848.02 246.2,847.6 C242.23,847.18 237.32,849.52 234,852 C230.68,854.48 229.13,857.83 226.3,862.5 C223.47,867.17 219.22,873.92 217,880 C214.78,886.08 214.42,892.33 213,899 C211.58,905.67 209.25,914 208.5,920 C207.75,926 207.2,931.3 208.5,935 C209.8,938.7 211.68,941.37 216.3,942.2 C220.92,943.03 230.25,940.87 236.2,940 C242.15,939.13 247.57,938.08 252,937 C256.43,935.92 261.47,938.83 262.8,933.5 C264.13,928.17 260.63,913.92 260,905 C259.37,896.08 259.08,886.8 259,880 C258.92,873.2 259.7,868.45 259.5,864.2 C259.3,859.95 260.02,857.27 257.8,854.5Z" fill="#a9d1d6"/>
<path d="M279.5,854.5 C281.97,851.47 289.88,848.02 294.3,847.6 C298.72,847.18 302.38,848.97 306,852 C309.62,855.03 313,860.8 316,865.8 C319,870.8 321.8,876.47 324,882 C326.2,887.53 327.78,892.67 329.2,899 C330.62,905.33 332.12,914 332.5,920 C332.88,926 333.72,931.3 331.5,935 C329.28,938.7 324.45,941.53 319.2,942.2 C313.95,942.87 305.7,940.03 300,939 C294.3,937.97 289,937.12 285,936 C281,934.88 277.08,937.47 276,932.3 C274.92,927.13 278,913.72 278.5,905 C279,896.28 278.83,886.53 279,880 C279.17,873.47 279.42,870.05 279.5,865.8 C279.58,861.55 277.03,857.53 279.5,854.5Z" fill="#a9d1d6"/>
<path d="M259,857 L268,848 L271,848 L280,857 L279.5,862 L262,862Z" fill="#a9d1d6"/>
<path d="M269.5,857 C268.33,860.67 268.25,872 268,880 C267.75,888 267.75,896.67 268,905 C268.25,913.33 268.42,923.67 269.5,930 C270.58,936.33 272.58,939.67 274.5,943 C276.42,946.33 279,949.67 281,950 C283,950.33 286.75,947.17 286.5,945 C286.25,942.83 281.17,940.33 279.5,937 C277.83,933.67 277.25,931.17 276.5,925 C275.75,918.83 275.33,907.83 275,900 C274.67,892.17 274.5,885 274.5,878 C274.5,871 275.83,861.5 275,858 C274.17,854.5 270.67,853.33 269.5,857Z" fill="#74a5c6"/>
<path d="M214.6,944.9 C218.43,941.15 231.97,941.57 240,942.5 C248.03,943.43 258.63,947.25 262.8,950.5 C266.97,953.75 265.63,958.25 265,962 C264.37,965.75 262.33,970.5 259,973 C255.67,975.5 251.28,975.33 245,977 C238.72,978.67 225.97,985 221.3,983 C216.63,981 218.12,971.35 217,965 C215.88,958.65 210.77,948.65 214.6,944.9Z" fill="#74a5c6"/>
<ellipse cx="251.5" cy="973.2" rx="4.8" ry="2.4" transform="rotate(-25 251.5 973.2)" fill="#5488ae"/>
<path d="M283,948 C283.72,946.13 289,947.23 292,947 C295,946.77 297.67,946.35 301,946.6 C304.33,946.85 308.83,946.77 312,948.5 C315.17,950.23 318.5,953.42 320,957 C321.5,960.58 321.67,965.67 321,970 C320.33,974.33 318.5,979.17 316,983 C313.5,986.83 309.83,990.08 306,993 C302.17,995.92 297.67,999.33 293,1000.5 C288.33,1001.67 282.5,1000.92 278,1000 C273.5,999.08 269.25,997.67 266,995 C262.75,992.33 258.5,986.67 258.5,984 C258.5,981.33 262.58,980.67 266,979 C269.42,977.33 275.83,976.17 279,974 C282.17,971.83 283.55,968.63 285,966 C286.45,963.37 288.03,961.2 287.7,958.2 C287.37,955.2 282.28,949.87 283,948Z" fill="#74a5c6"/>
<path d="M262,982 C248,983 232,985 229.5,994 C228,1002 240,1003 250,996 C256,992 259,995 260,1003 L263.5,1020" fill="none" stroke="#74a5c6" stroke-width="6.5" stroke-linecap="round"/>
<path d="M218,1015 C223.05,1012.5 232.27,1012.23 240,1013 C247.73,1013.77 257.07,1019.77 264.4,1019.6 C271.73,1019.43 277.63,1015.32 284,1012 C290.37,1008.68 297.43,1002.2 302.6,999.7 C307.77,997.2 311.67,997.28 315,997 C318.33,996.72 321.02,995.83 322.6,998 C324.18,1000.17 324.27,1003.83 324.5,1010 C324.73,1016.17 323.77,1026.5 324,1035 C324.23,1043.5 326.23,1053.83 325.9,1061 C325.57,1068.17 323.48,1073.17 322,1078 C320.52,1082.83 320.23,1085 317,1090 C313.77,1095 307.93,1104.58 302.6,1108 C297.27,1111.42 289.15,1109.92 285,1110.5 C280.85,1111.08 280.03,1110.75 277.7,1111.5 C275.37,1112.25 273.22,1114.55 271,1115 C268.78,1115.45 266.57,1115.03 264.4,1114.2 C262.23,1113.37 259.4,1112.37 258,1110 C256.6,1107.63 258.25,1103.43 256,1100 C253.75,1096.57 250,1091.73 244.5,1089.4 C239,1087.07 228.42,1088.4 223,1086 C217.58,1083.6 214.22,1079.33 212,1075 C209.78,1070.67 210.08,1067.83 209.7,1060 C209.32,1052.17 208.32,1035.5 209.7,1028 C211.08,1020.5 212.95,1017.5 218,1015Z" fill="#74a5c6"/>
<path d="M226.3,1029 C229.97,1025.7 237.82,1031.9 245,1033 C252.18,1034.1 261.9,1036.43 269.4,1035.6 C276.9,1034.77 283.23,1030.5 290,1028 C296.77,1025.5 306.17,1018.6 310,1020.6 C313.83,1022.6 312.3,1031.87 313,1040 C313.7,1048.13 315.03,1061.9 314.2,1069.4 C313.37,1076.9 310.7,1080.73 308,1085 C305.3,1089.27 302.77,1092.07 298,1095 C293.23,1097.93 284.07,1100.43 279.4,1102.6 C274.73,1104.77 272.73,1107.43 270,1108 C267.27,1108.57 264.83,1108.28 263,1106 C261.17,1103.72 261.67,1097.47 259,1094.3 C256.33,1091.13 250.8,1088.93 247,1087 C243.2,1085.07 239.37,1085.53 236.2,1082.7 C233.03,1079.87 230.2,1074.98 228,1070 C225.8,1065.02 223.28,1059.63 223,1052.8 C222.72,1045.97 222.63,1032.3 226.3,1029Z" fill="#8db4cf"/>
<path d="M242.9,1089.4 C243,1105 249,1115 256.5,1121 M289.4,1111 C287.5,1116 285,1119 282.7,1121" fill="none" stroke="#1c6e8c" stroke-width="1.8"/>
<path d="M269.4,1118 C273.23,1118 278.23,1119 281,1121 C283.77,1123 285.83,1126.83 286,1130 C286.17,1133.17 284,1137.33 282,1140 C280,1142.67 275.75,1143.83 274,1146 C272.25,1148.17 271.92,1151.25 271.5,1153 C271.08,1154.75 272.17,1155.92 271.5,1156.5 C270.83,1157.08 268.17,1157.08 267.5,1156.5 C266.83,1155.92 267.92,1154.75 267.5,1153 C267.08,1151.25 266.75,1148.17 265,1146 C263.25,1143.83 259,1142.67 257,1140 C255,1137.33 252.83,1133.17 253,1130 C253.17,1126.83 255.27,1123 258,1121 C260.73,1119 265.57,1118 269.4,1118Z" fill="#1c6e8c"/>
<text x="390.8" y="707" font-size="25.5" fill="#2f7d3b" style="font-weight:bold;">MUC5B</text>
<circle cx="395.4" cy="725.4" r="3.4" fill="#000"/>
<text x="404.4" y="733.8" font-size="25.9">Oral cavity</text>
<circle cx="395.4" cy="756.38" r="3.4" fill="#000"/>
<text x="404.4" y="764.78" font-size="25.9">Middle ear</text>
<circle cx="395.4" cy="787.36" r="3.4" fill="#000"/>
<text x="404.4" y="795.76" font-size="25.9">Trachea &amp; lungs</text>
<circle cx="395.4" cy="818.34" r="3.4" fill="#000"/>
<text x="404.4" y="826.74" font-size="25.9">Gallbladder</text>
<circle cx="395.4" cy="849.32" r="3.4" fill="#000"/>
<text x="404.4" y="857.72" font-size="25.9">Cervix</text>
<text x="16" y="877.2" font-size="25.3" fill="#80a686" style="font-weight:bold;">MUC5AC</text>
<circle cx="15.8" cy="900.9" r="3.4" fill="#000"/>
<text x="24.3" y="909.3" font-size="25.9">Tear ducts</text>
<circle cx="15.8" cy="932.06" r="3.4" fill="#000"/>
<text x="24.3" y="940.46" font-size="25.9">Middle ear</text>
<circle cx="15.8" cy="963.22" r="3.4" fill="#000"/>
<text x="24.3" y="971.62" font-size="25.9">Nasal cavity</text>
<circle cx="15.8" cy="994.38" r="3.4" fill="#000"/>
<text x="24.3" y="1002.78" font-size="25.9">Trachea &amp; lungs</text>
<circle cx="15.8" cy="1025.54" r="3.4" fill="#000"/>
<text x="24.3" y="1033.94" font-size="25.9">Stomach</text>
<circle cx="15.8" cy="1056.7" r="3.4" fill="#000"/>
<text x="24.3" y="1065.1" font-size="25.9">Vagina</text>
<text x="362.5" y="1008.8" font-size="25.3" fill="#8cb44c" style="font-weight:bold;">MUC2</text>
<circle cx="366.5" cy="1029.8" r="3.4" fill="#000"/>
<text x="374.9" y="1038.2" font-size="25.9">Duodenum &amp; ileum</text>
<circle cx="366.5" cy="1060.8" r="3.4" fill="#000"/>
<text x="374.9" y="1069.2" font-size="25.9">Colon</text>
<text x="671.5" y="679.2" font-size="31.5" style="font-weight:bold;">e.</text>
<text x="878.3" y="679.8" font-size="28.9" text-anchor="middle" style="font-weight:bold;">Alpha Diversity (48h)</text>
<text x="879.1" y="712.5" font-size="28.9" text-anchor="middle">(richness &amp; evenness)</text>
<line x1="727.1" y1="758" x2="727.1" y2="1060.7" stroke="#000" stroke-width="3.6"/>
<line x1="714.7" y1="1058.9" x2="727.1" y2="1058.9" stroke="#000" stroke-width="3.6"/>
<text x="710.5" y="1067.1" font-size="22.7" text-anchor="end" style="font-weight:bold;">0</text>
<line x1="714.7" y1="984.12" x2="727.1" y2="984.12" stroke="#000" stroke-width="3.6"/>
<text x="710.5" y="992.33" font-size="22.7" text-anchor="end" style="font-weight:bold;">1</text>
<line x1="714.7" y1="909.35" x2="727.1" y2="909.35" stroke="#000" stroke-width="3.6"/>
<text x="710.5" y="917.55" font-size="22.7" text-anchor="end" style="font-weight:bold;">2</text>
<line x1="714.7" y1="834.58" x2="727.1" y2="834.58" stroke="#000" stroke-width="3.6"/>
<text x="710.5" y="842.78" font-size="22.7" text-anchor="end" style="font-weight:bold;">3</text>
<line x1="714.7" y1="759.8" x2="727.1" y2="759.8" stroke="#000" stroke-width="3.6"/>
<text x="710.5" y="768" font-size="22.7" text-anchor="end" style="font-weight:bold;">4</text>
<line x1="714.7" y1="1058.9" x2="1026.5" y2="1058.9" stroke="#000" stroke-width="3.6"/>
<line x1="772.5" y1="1058.9" x2="772.5" y2="1072.6" stroke="#000" stroke-width="3.6"/>
<line x1="841.2" y1="1058.9" x2="841.2" y2="1072.6" stroke="#000" stroke-width="3.6"/>
<line x1="910.4" y1="1058.9" x2="910.4" y2="1072.6" stroke="#000" stroke-width="3.6"/>
<line x1="979.5" y1="1058.9" x2="979.5" y2="1072.6" stroke="#000" stroke-width="3.6"/>
<text transform="translate(782 1087) rotate(-45)" font-size="23" text-anchor="end" style="font-weight:bold;">Glucose medium</text>
<text transform="translate(850.7 1087) rotate(-45)" font-size="23" text-anchor="end" style="font-weight:bold;">+ MUC5B</text>
<text transform="translate(919.9 1087) rotate(-45)" font-size="23" text-anchor="end" style="font-weight:bold;">+ Muc5ac</text>
<text transform="translate(989 1087) rotate(-45)" font-size="23" text-anchor="end" style="font-weight:bold;">+ Muc2</text>
<text transform="translate(680 911) rotate(-90)" font-size="23.2" text-anchor="middle" style="font-weight:bold;">Shannon-Wiener Index</text>
<line x1="772.5" y1="887" x2="772.5" y2="882.5" stroke="#a2a2a8" stroke-width="4.3"/>
<line x1="772.5" y1="938.6" x2="772.5" y2="943" stroke="#a2a2a8" stroke-width="4.3"/>
<line x1="760.7" y1="882.5" x2="784.3" y2="882.5" stroke="#a2a2a8" stroke-width="4.3"/>
<line x1="760.7" y1="943" x2="784.3" y2="943" stroke="#a2a2a8" stroke-width="4.3"/>
<rect x="751.65" y="887" width="41.7" height="51.6" rx="2.5" fill="none" stroke="#a2a2a8" stroke-width="4.3"/>
<line x1="751.65" y1="913.8" x2="793.35" y2="913.8" stroke="#a2a2a8" stroke-width="4.3"/>
<line x1="841.2" y1="858.5" x2="841.2" y2="852.5" stroke="#2f7d3b" stroke-width="4.3"/>
<line x1="841.2" y1="901.5" x2="841.2" y2="907.2" stroke="#2f7d3b" stroke-width="4.3"/>
<line x1="829.4" y1="852.5" x2="853" y2="852.5" stroke="#2f7d3b" stroke-width="4.3"/>
<line x1="829.4" y1="907.2" x2="853" y2="907.2" stroke="#2f7d3b" stroke-width="4.3"/>
<rect x="820.55" y="858.5" width="41.3" height="43" rx="2.5" fill="none" stroke="#2f7d3b" stroke-width="4.3"/>
<line x1="820.55" y1="879.9" x2="861.85" y2="879.9" stroke="#2f7d3b" stroke-width="4.3"/>
<line x1="910.4" y1="843" x2="910.4" y2="841.5" stroke="#80a084" stroke-width="4.3"/>
<line x1="910.4" y1="892.6" x2="910.4" y2="896.7" stroke="#80a084" stroke-width="4.3"/>
<line x1="898.6" y1="841.5" x2="922.2" y2="841.5" stroke="#80a084" stroke-width="4.3"/>
<line x1="898.6" y1="896.7" x2="922.2" y2="896.7" stroke="#80a084" stroke-width="4.3"/>
<rect x="889.9" y="843" width="41" height="49.6" rx="2.5" fill="none" stroke="#80a084" stroke-width="4.3"/>
<line x1="889.9" y1="865.9" x2="930.9" y2="865.9" stroke="#80a084" stroke-width="4.3"/>
<line x1="979.5" y1="838.5" x2="979.5" y2="833.5" stroke="#8cb44a" stroke-width="4.3"/>
<line x1="979.5" y1="866.6" x2="979.5" y2="875.4" stroke="#8cb44a" stroke-width="4.3"/>
<line x1="967.7" y1="833.5" x2="991.3" y2="833.5" stroke="#8cb44a" stroke-width="4.3"/>
<line x1="967.7" y1="875.4" x2="991.3" y2="875.4" stroke="#8cb44a" stroke-width="4.3"/>
<rect x="958.85" y="838.5" width="41.3" height="28.1" rx="2.5" fill="none" stroke="#8cb44a" stroke-width="4.3"/>
<line x1="958.85" y1="848.5" x2="1000.15" y2="848.5" stroke="#8cb44a" stroke-width="4.3"/>
<circle cx="772.2" cy="882.4" r="5.1" fill="#636369"/>
<circle cx="772.2" cy="893.2" r="5.1" fill="#636369"/>
<circle cx="781.2" cy="934.3" r="5.1" fill="#636369"/>
<circle cx="763.2" cy="943.2" r="5.1" fill="#636369"/>
<circle cx="841.1" cy="852.5" r="5.1" fill="#1e4d23"/>
<circle cx="841.1" cy="867.6" r="5.1" fill="#1e4d23"/>
<circle cx="841.1" cy="892.8" r="5.1" fill="#1e4d23"/>
<circle cx="841.1" cy="907.2" r="5.1" fill="#1e4d23"/>
<circle cx="901.3" cy="841.3" r="5.1" fill="#4e6e52"/>
<circle cx="919.4" cy="840.5" r="5.1" fill="#4e6e52"/>
<circle cx="919.4" cy="890.1" r="5.1" fill="#4e6e52"/>
<circle cx="901.3" cy="896.7" r="5.1" fill="#4e6e52"/>
<circle cx="979.4" cy="833.2" r="5.1" fill="#6a8a35"/>
<circle cx="970.5" cy="844.8" r="5.1" fill="#6a8a35"/>
<circle cx="988.5" cy="852.2" r="5.1" fill="#6a8a35"/>
<circle cx="979.4" cy="875" r="5.1" fill="#6a8a35"/>
<polyline points="772.5,769 772.5,749.9 979.5,749.9 979.5,816.3" fill="none" stroke="#000" stroke-width="3.1" stroke-linejoin="round"/>
<polyline points="772.5,811.4 772.5,788.5 910.4,788.5 910.4,822.8" fill="none" stroke="#000" stroke-width="3.1" stroke-linejoin="round"/>
<polyline points="772.5,865 772.5,829.3 841.1,829.3 841.1,834.7" fill="none" stroke="#000" stroke-width="3.1" stroke-linejoin="round"/>
<text x="875.9" y="737.8" font-size="20" text-anchor="middle" style="font-family:'DejaVu Sans',sans-serif;font-weight:bold">&#8727;</text>
<text x="833.9" y="776.8" font-size="20" text-anchor="middle" style="font-family:'DejaVu Sans',sans-serif;font-weight:bold">&#8727;</text>
<text x="848.9" y="776.8" font-size="20" text-anchor="middle" style="font-family:'DejaVu Sans',sans-serif;font-weight:bold">&#8727;</text>
<text x="806.6" y="816.6" font-size="20" text-anchor="middle" style="font-family:'DejaVu Sans',sans-serif;font-weight:bold">&#8727;</text>
<text x="1108" y="679.2" font-size="31.5" style="font-weight:bold;">f.</text>
<text x="1319.2" y="679.8" font-size="28.8" text-anchor="middle" style="font-weight:bold;">Beta Diversity (48h)</text>
<text x="1319" y="712.5" font-size="28.9" text-anchor="middle">(divergence from inocula)</text>
<line x1="1183.5" y1="745" x2="1183.5" y2="1060.7" stroke="#000" stroke-width="3.6"/>
<line x1="1169.8" y1="1058.9" x2="1183.5" y2="1058.9" stroke="#000" stroke-width="3.6"/>
<text x="1166" y="1067.1" font-size="22.7" text-anchor="end" style="font-weight:bold;">0.0</text>
<line x1="1169.8" y1="996.48" x2="1183.5" y2="996.48" stroke="#000" stroke-width="3.6"/>
<text x="1166" y="1004.68" font-size="22.7" text-anchor="end" style="font-weight:bold;">0.2</text>
<line x1="1169.8" y1="934.06" x2="1183.5" y2="934.06" stroke="#000" stroke-width="3.6"/>
<text x="1166" y="942.26" font-size="22.7" text-anchor="end" style="font-weight:bold;">0.4</text>
<line x1="1169.8" y1="871.64" x2="1183.5" y2="871.64" stroke="#000" stroke-width="3.6"/>
<text x="1166" y="879.84" font-size="22.7" text-anchor="end" style="font-weight:bold;">0.6</text>
<line x1="1169.8" y1="809.22" x2="1183.5" y2="809.22" stroke="#000" stroke-width="3.6"/>
<text x="1166" y="817.42" font-size="22.7" text-anchor="end" style="font-weight:bold;">0.8</text>
<line x1="1169.8" y1="746.8" x2="1183.5" y2="746.8" stroke="#000" stroke-width="3.6"/>
<text x="1166" y="755" font-size="22.7" text-anchor="end" style="font-weight:bold;">1.0</text>
<line x1="1169.8" y1="1058.9" x2="1496.3" y2="1058.9" stroke="#000" stroke-width="3.6"/>
<line x1="1230.9" y1="1058.9" x2="1230.9" y2="1072.6" stroke="#000" stroke-width="3.6"/>
<line x1="1303" y1="1058.9" x2="1303" y2="1072.6" stroke="#000" stroke-width="3.6"/>
<line x1="1375.1" y1="1058.9" x2="1375.1" y2="1072.6" stroke="#000" stroke-width="3.6"/>
<line x1="1447.2" y1="1058.9" x2="1447.2" y2="1072.6" stroke="#000" stroke-width="3.6"/>
<text transform="translate(1240.4 1087) rotate(-45)" font-size="23" text-anchor="end" style="font-weight:bold;">Glucose medium</text>
<text transform="translate(1312.5 1087) rotate(-45)" font-size="23" text-anchor="end" style="font-weight:bold;">+ MUC5B</text>
<text transform="translate(1384.6 1087) rotate(-45)" font-size="23" text-anchor="end" style="font-weight:bold;">+ Muc5ac</text>
<text transform="translate(1456.7 1087) rotate(-45)" font-size="23" text-anchor="end" style="font-weight:bold;">+ Muc2</text>
<text transform="translate(1120.5 902) rotate(-90)" font-size="22.8" text-anchor="middle" style="font-weight:bold;">Bray-Curtis Dissimilarity</text>
<line x1="1230.9" y1="789.5" x2="1230.9" y2="785.7" stroke="#a2a2a8" stroke-width="4.3"/>
<line x1="1230.9" y1="813.5" x2="1230.9" y2="819.5" stroke="#a2a2a8" stroke-width="4.3"/>
<line x1="1219.1" y1="785.7" x2="1242.7" y2="785.7" stroke="#a2a2a8" stroke-width="4.3"/>
<line x1="1219.1" y1="819.5" x2="1242.7" y2="819.5" stroke="#a2a2a8" stroke-width="4.3"/>
<rect x="1209.1" y="789.5" width="43.6" height="24" rx="2.5" fill="none" stroke="#a2a2a8" stroke-width="4.3"/>
<line x1="1209.1" y1="798.1" x2="1252.7" y2="798.1" stroke="#a2a2a8" stroke-width="4.3"/>
<line x1="1303" y1="829.5" x2="1303" y2="821.5" stroke="#2f7d3b" stroke-width="4.3"/>
<line x1="1303" y1="865.8" x2="1303" y2="875" stroke="#2f7d3b" stroke-width="4.3"/>
<line x1="1291.2" y1="821.5" x2="1314.8" y2="821.5" stroke="#2f7d3b" stroke-width="4.3"/>
<line x1="1291.2" y1="875" x2="1314.8" y2="875" stroke="#2f7d3b" stroke-width="4.3"/>
<rect x="1281.25" y="829.5" width="43.5" height="36.3" rx="2.5" fill="none" stroke="#2f7d3b" stroke-width="4.3"/>
<line x1="1281.25" y1="845.8" x2="1324.75" y2="845.8" stroke="#2f7d3b" stroke-width="4.3"/>
<line x1="1375.1" y1="844.3" x2="1375.1" y2="839.7" stroke="#80a084" stroke-width="4.3"/>
<line x1="1375.1" y1="901.5" x2="1375.1" y2="903.5" stroke="#80a084" stroke-width="4.3"/>
<line x1="1363.3" y1="839.7" x2="1386.9" y2="839.7" stroke="#80a084" stroke-width="4.3"/>
<line x1="1363.3" y1="903.5" x2="1386.9" y2="903.5" stroke="#80a084" stroke-width="4.3"/>
<rect x="1353.3" y="844.3" width="43.6" height="57.2" rx="2.5" fill="none" stroke="#80a084" stroke-width="4.3"/>
<line x1="1353.3" y1="876.4" x2="1396.9" y2="876.4" stroke="#80a084" stroke-width="4.3"/>
<line x1="1447.2" y1="911.6" x2="1447.2" y2="908" stroke="#8cb44a" stroke-width="4.3"/>
<line x1="1447.2" y1="967.4" x2="1447.2" y2="974.3" stroke="#8cb44a" stroke-width="4.3"/>
<line x1="1435.4" y1="908" x2="1459" y2="908" stroke="#8cb44a" stroke-width="4.3"/>
<line x1="1435.4" y1="974.3" x2="1459" y2="974.3" stroke="#8cb44a" stroke-width="4.3"/>
<rect x="1425.5" y="911.6" width="43.4" height="55.8" rx="2.5" fill="none" stroke="#8cb44a" stroke-width="4.3"/>
<line x1="1425.5" y1="936.7" x2="1468.9" y2="936.7" stroke="#8cb44a" stroke-width="4.3"/>
<circle cx="1221.3" cy="791.3" r="5.1" fill="#636369"/>
<circle cx="1240.1" cy="785.5" r="5.1" fill="#636369"/>
<circle cx="1230.8" cy="804.9" r="5.1" fill="#636369"/>
<circle cx="1230.8" cy="819.6" r="5.1" fill="#636369"/>
<circle cx="1302.9" cy="821.1" r="5.1" fill="#1e4d23"/>
<circle cx="1293.6" cy="845.5" r="5.1" fill="#1e4d23"/>
<circle cx="1312.2" cy="846.3" r="5.1" fill="#1e4d23"/>
<circle cx="1302.9" cy="874.6" r="5.1" fill="#1e4d23"/>
<circle cx="1375" cy="839.3" r="5.1" fill="#4e6e52"/>
<circle cx="1375" cy="851.5" r="5.1" fill="#4e6e52"/>
<circle cx="1365.6" cy="905.1" r="5.1" fill="#4e6e52"/>
<circle cx="1384.2" cy="901.4" r="5.1" fill="#4e6e52"/>
<circle cx="1437.8" cy="914.5" r="5.1" fill="#6a8a35"/>
<circle cx="1456.5" cy="907.7" r="5.1" fill="#6a8a35"/>
<circle cx="1447.1" cy="957.3" r="5.1" fill="#6a8a35"/>
<circle cx="1447.1" cy="974.3" r="5.1" fill="#6a8a35"/>
<polyline points="1230.9,835.1 1230.9,896.2 1302.7,896.2 1302.7,887.4" fill="none" stroke="#000" stroke-width="3.1" stroke-linejoin="round"/>
<polyline points="1230.9,907.6 1230.9,939.4 1375,939.4 1375,924" fill="none" stroke="#000" stroke-width="3.1" stroke-linejoin="round"/>
<polyline points="1230.9,948 1230.9,991 1447.2,991 1447.2,982.6" fill="none" stroke="#000" stroke-width="3.1" stroke-linejoin="round"/>
<text x="1266.9" y="883.6" font-size="20" text-anchor="middle" style="font-family:'DejaVu Sans',sans-serif;font-weight:bold">&#8727;</text>
<text x="1302.9" y="926.4" font-size="20" text-anchor="middle" style="font-family:'DejaVu Sans',sans-serif;font-weight:bold">&#8727;</text>
<text x="1331" y="979.2" font-size="20" text-anchor="middle" style="font-family:'DejaVu Sans',sans-serif;font-weight:bold">&#8727;</text>
<text x="1346.4" y="979.2" font-size="20" text-anchor="middle" style="font-family:'DejaVu Sans',sans-serif;font-weight:bold">&#8727;</text>
<text x="1567.5" y="685.2" font-size="31.5" style="font-weight:bold;">g.</text>
<text x="1836.5" y="698.7" font-size="29.2" text-anchor="middle" style="font-weight:bold;">Total Growth</text>
<line x1="1675.6" y1="731" x2="1675.6" y2="1052.2" stroke="#000" stroke-width="2.9"/>
<line x1="1662" y1="1050.7" x2="1675.6" y2="1050.7" stroke="#000" stroke-width="2.9"/>
<text x="1647.6" y="1059.3" font-size="24" text-anchor="end" style="font-weight:bold;">10</text>
<text x="1650.5" y="1052.2" font-size="16" style="font-weight:bold;">4</text>
<line x1="1668.3" y1="1031.54" x2="1675.6" y2="1031.54" stroke="#000" stroke-width="2.6"/>
<line x1="1668.3" y1="1020.34" x2="1675.6" y2="1020.34" stroke="#000" stroke-width="2.6"/>
<line x1="1668.3" y1="1012.38" x2="1675.6" y2="1012.38" stroke="#000" stroke-width="2.6"/>
<line x1="1668.3" y1="1006.22" x2="1675.6" y2="1006.22" stroke="#000" stroke-width="2.6"/>
<line x1="1668.3" y1="1001.18" x2="1675.6" y2="1001.18" stroke="#000" stroke-width="2.6"/>
<line x1="1668.3" y1="996.92" x2="1675.6" y2="996.92" stroke="#000" stroke-width="2.6"/>
<line x1="1668.3" y1="993.23" x2="1675.6" y2="993.23" stroke="#000" stroke-width="2.6"/>
<line x1="1668.3" y1="989.97" x2="1675.6" y2="989.97" stroke="#000" stroke-width="2.6"/>
<line x1="1662" y1="987.06" x2="1675.6" y2="987.06" stroke="#000" stroke-width="2.9"/>
<text x="1647.6" y="995.66" font-size="24" text-anchor="end" style="font-weight:bold;">10</text>
<text x="1650.5" y="988.56" font-size="16" style="font-weight:bold;">5</text>
<line x1="1668.3" y1="967.9" x2="1675.6" y2="967.9" stroke="#000" stroke-width="2.6"/>
<line x1="1668.3" y1="956.7" x2="1675.6" y2="956.7" stroke="#000" stroke-width="2.6"/>
<line x1="1668.3" y1="948.74" x2="1675.6" y2="948.74" stroke="#000" stroke-width="2.6"/>
<line x1="1668.3" y1="942.58" x2="1675.6" y2="942.58" stroke="#000" stroke-width="2.6"/>
<line x1="1668.3" y1="937.54" x2="1675.6" y2="937.54" stroke="#000" stroke-width="2.6"/>
<line x1="1668.3" y1="933.28" x2="1675.6" y2="933.28" stroke="#000" stroke-width="2.6"/>
<line x1="1668.3" y1="929.59" x2="1675.6" y2="929.59" stroke="#000" stroke-width="2.6"/>
<line x1="1668.3" y1="926.33" x2="1675.6" y2="926.33" stroke="#000" stroke-width="2.6"/>
<line x1="1662" y1="923.42" x2="1675.6" y2="923.42" stroke="#000" stroke-width="2.9"/>
<text x="1647.6" y="932.02" font-size="24" text-anchor="end" style="font-weight:bold;">10</text>
<text x="1650.5" y="924.92" font-size="16" style="font-weight:bold;">6</text>
<line x1="1668.3" y1="904.26" x2="1675.6" y2="904.26" stroke="#000" stroke-width="2.6"/>
<line x1="1668.3" y1="893.06" x2="1675.6" y2="893.06" stroke="#000" stroke-width="2.6"/>
<line x1="1668.3" y1="885.1" x2="1675.6" y2="885.1" stroke="#000" stroke-width="2.6"/>
<line x1="1668.3" y1="878.94" x2="1675.6" y2="878.94" stroke="#000" stroke-width="2.6"/>
<line x1="1668.3" y1="873.9" x2="1675.6" y2="873.9" stroke="#000" stroke-width="2.6"/>
<line x1="1668.3" y1="869.64" x2="1675.6" y2="869.64" stroke="#000" stroke-width="2.6"/>
<line x1="1668.3" y1="865.95" x2="1675.6" y2="865.95" stroke="#000" stroke-width="2.6"/>
<line x1="1668.3" y1="862.69" x2="1675.6" y2="862.69" stroke="#000" stroke-width="2.6"/>
<line x1="1662" y1="859.78" x2="1675.6" y2="859.78" stroke="#000" stroke-width="2.9"/>
<text x="1647.6" y="868.38" font-size="24" text-anchor="end" style="font-weight:bold;">10</text>
<text x="1650.5" y="861.28" font-size="16" style="font-weight:bold;">7</text>
<line x1="1668.3" y1="840.62" x2="1675.6" y2="840.62" stroke="#000" stroke-width="2.6"/>
<line x1="1668.3" y1="829.42" x2="1675.6" y2="829.42" stroke="#000" stroke-width="2.6"/>
<line x1="1668.3" y1="821.46" x2="1675.6" y2="821.46" stroke="#000" stroke-width="2.6"/>
<line x1="1668.3" y1="815.3" x2="1675.6" y2="815.3" stroke="#000" stroke-width="2.6"/>
<line x1="1668.3" y1="810.26" x2="1675.6" y2="810.26" stroke="#000" stroke-width="2.6"/>
<line x1="1668.3" y1="806" x2="1675.6" y2="806" stroke="#000" stroke-width="2.6"/>
<line x1="1668.3" y1="802.31" x2="1675.6" y2="802.31" stroke="#000" stroke-width="2.6"/>
<line x1="1668.3" y1="799.05" x2="1675.6" y2="799.05" stroke="#000" stroke-width="2.6"/>
<line x1="1662" y1="796.14" x2="1675.6" y2="796.14" stroke="#000" stroke-width="2.9"/>
<text x="1647.6" y="804.74" font-size="24" text-anchor="end" style="font-weight:bold;">10</text>
<text x="1650.5" y="797.64" font-size="16" style="font-weight:bold;">8</text>
<line x1="1668.3" y1="776.98" x2="1675.6" y2="776.98" stroke="#000" stroke-width="2.6"/>
<line x1="1668.3" y1="765.78" x2="1675.6" y2="765.78" stroke="#000" stroke-width="2.6"/>
<line x1="1668.3" y1="757.82" x2="1675.6" y2="757.82" stroke="#000" stroke-width="2.6"/>
<line x1="1668.3" y1="751.66" x2="1675.6" y2="751.66" stroke="#000" stroke-width="2.6"/>
<line x1="1668.3" y1="746.62" x2="1675.6" y2="746.62" stroke="#000" stroke-width="2.6"/>
<line x1="1668.3" y1="742.36" x2="1675.6" y2="742.36" stroke="#000" stroke-width="2.6"/>
<line x1="1668.3" y1="738.67" x2="1675.6" y2="738.67" stroke="#000" stroke-width="2.6"/>
<line x1="1668.3" y1="735.41" x2="1675.6" y2="735.41" stroke="#000" stroke-width="2.6"/>
<line x1="1662" y1="732.5" x2="1675.6" y2="732.5" stroke="#000" stroke-width="2.9"/>
<text x="1647.6" y="741.1" font-size="24" text-anchor="end" style="font-weight:bold;">10</text>
<text x="1650.5" y="734" font-size="16" style="font-weight:bold;">9</text>
<line x1="1662" y1="1050.7" x2="1995" y2="1050.7" stroke="#000" stroke-width="3"/>
<line x1="1675.6" y1="1050.7" x2="1675.6" y2="1063.5" stroke="#000" stroke-width="3"/>
<text x="1675.6" y="1088.9" font-size="23.6" text-anchor="middle" style="font-weight:bold;">0</text>
<line x1="1781.63" y1="1050.7" x2="1781.63" y2="1063.5" stroke="#000" stroke-width="3"/>
<text x="1781.63" y="1088.9" font-size="23.6" text-anchor="middle" style="font-weight:bold;">20</text>
<line x1="1887.67" y1="1050.7" x2="1887.67" y2="1063.5" stroke="#000" stroke-width="3"/>
<text x="1887.67" y="1088.9" font-size="23.6" text-anchor="middle" style="font-weight:bold;">40</text>
<line x1="1993.7" y1="1050.7" x2="1993.7" y2="1063.5" stroke="#000" stroke-width="3"/>
<text x="1993.7" y="1088.9" font-size="23.6" text-anchor="middle" style="font-weight:bold;">60</text>
<text x="1837.6" y="1131.2" font-size="22.7" text-anchor="middle" style="font-weight:bold;">Time [h]</text>
<text transform="translate(1603.5 897.6) rotate(-90)" font-size="22.5" text-anchor="middle" style="font-weight:bold;">CFU/mL</text>
<line x1="1718.01" y1="838" x2="1718.01" y2="855" stroke="#a7a7ad" stroke-width="1.8"/>
<line x1="1711.01" y1="838" x2="1725.01" y2="838" stroke="#a7a7ad" stroke-width="1.8"/>
<line x1="1711.01" y1="855" x2="1725.01" y2="855" stroke="#a7a7ad" stroke-width="1.8"/>
<line x1="1760.43" y1="766.5" x2="1760.43" y2="784" stroke="#a7a7ad" stroke-width="1.8"/>
<line x1="1753.43" y1="766.5" x2="1767.43" y2="766.5" stroke="#a7a7ad" stroke-width="1.8"/>
<line x1="1753.43" y1="784" x2="1767.43" y2="784" stroke="#a7a7ad" stroke-width="1.8"/>
<line x1="1802.84" y1="768.5" x2="1802.84" y2="837" stroke="#a7a7ad" stroke-width="1.8"/>
<line x1="1795.84" y1="768.5" x2="1809.84" y2="768.5" stroke="#a7a7ad" stroke-width="1.8"/>
<line x1="1795.84" y1="837" x2="1809.84" y2="837" stroke="#a7a7ad" stroke-width="1.8"/>
<line x1="1930.08" y1="816.5" x2="1930.08" y2="829" stroke="#a7a7ad" stroke-width="1.8"/>
<line x1="1923.08" y1="816.5" x2="1937.08" y2="816.5" stroke="#a7a7ad" stroke-width="1.8"/>
<line x1="1923.08" y1="829" x2="1937.08" y2="829" stroke="#a7a7ad" stroke-width="1.8"/>
<line x1="1718.01" y1="838" x2="1718.01" y2="987.8" stroke="#86a98a" stroke-width="1.8"/>
<line x1="1711.01" y1="838" x2="1725.01" y2="838" stroke="#86a98a" stroke-width="1.8"/>
<line x1="1711.01" y1="987.8" x2="1725.01" y2="987.8" stroke="#86a98a" stroke-width="1.8"/>
<line x1="1760.43" y1="773" x2="1760.43" y2="794" stroke="#86a98a" stroke-width="1.8"/>
<line x1="1753.43" y1="773" x2="1767.43" y2="773" stroke="#86a98a" stroke-width="1.8"/>
<line x1="1753.43" y1="794" x2="1767.43" y2="794" stroke="#86a98a" stroke-width="1.8"/>
<line x1="1802.84" y1="790" x2="1802.84" y2="809" stroke="#86a98a" stroke-width="1.8"/>
<line x1="1795.84" y1="790" x2="1809.84" y2="790" stroke="#86a98a" stroke-width="1.8"/>
<line x1="1795.84" y1="809" x2="1809.84" y2="809" stroke="#86a98a" stroke-width="1.8"/>
<line x1="1930.08" y1="835" x2="1930.08" y2="848" stroke="#86a98a" stroke-width="1.8"/>
<line x1="1923.08" y1="835" x2="1937.08" y2="835" stroke="#86a98a" stroke-width="1.8"/>
<line x1="1923.08" y1="848" x2="1937.08" y2="848" stroke="#86a98a" stroke-width="1.8"/>
<line x1="1718.01" y1="836" x2="1718.01" y2="850" stroke="#8fb84e" stroke-width="1.8"/>
<line x1="1711.01" y1="836" x2="1725.01" y2="836" stroke="#8fb84e" stroke-width="1.8"/>
<line x1="1711.01" y1="850" x2="1725.01" y2="850" stroke="#8fb84e" stroke-width="1.8"/>
<line x1="1760.43" y1="772" x2="1760.43" y2="786" stroke="#8fb84e" stroke-width="1.8"/>
<line x1="1753.43" y1="772" x2="1767.43" y2="772" stroke="#8fb84e" stroke-width="1.8"/>
<line x1="1753.43" y1="786" x2="1767.43" y2="786" stroke="#8fb84e" stroke-width="1.8"/>
<line x1="1802.84" y1="779" x2="1802.84" y2="795" stroke="#8fb84e" stroke-width="1.8"/>
<line x1="1795.84" y1="779" x2="1809.84" y2="779" stroke="#8fb84e" stroke-width="1.8"/>
<line x1="1795.84" y1="795" x2="1809.84" y2="795" stroke="#8fb84e" stroke-width="1.8"/>
<line x1="1930.08" y1="828" x2="1930.08" y2="840" stroke="#8fb84e" stroke-width="1.8"/>
<line x1="1923.08" y1="828" x2="1937.08" y2="828" stroke="#8fb84e" stroke-width="1.8"/>
<line x1="1923.08" y1="840" x2="1937.08" y2="840" stroke="#8fb84e" stroke-width="1.8"/>
<line x1="1718.01" y1="820.7" x2="1718.01" y2="844" stroke="#2f7d3b" stroke-width="1.8"/>
<line x1="1711.01" y1="820.7" x2="1725.01" y2="820.7" stroke="#2f7d3b" stroke-width="1.8"/>
<line x1="1711.01" y1="844" x2="1725.01" y2="844" stroke="#2f7d3b" stroke-width="1.8"/>
<line x1="1760.43" y1="769" x2="1760.43" y2="781" stroke="#2f7d3b" stroke-width="1.8"/>
<line x1="1753.43" y1="769" x2="1767.43" y2="769" stroke="#2f7d3b" stroke-width="1.8"/>
<line x1="1753.43" y1="781" x2="1767.43" y2="781" stroke="#2f7d3b" stroke-width="1.8"/>
<line x1="1802.84" y1="779" x2="1802.84" y2="792" stroke="#2f7d3b" stroke-width="1.8"/>
<line x1="1795.84" y1="779" x2="1809.84" y2="779" stroke="#2f7d3b" stroke-width="1.8"/>
<line x1="1795.84" y1="792" x2="1809.84" y2="792" stroke="#2f7d3b" stroke-width="1.8"/>
<line x1="1930.08" y1="820.8" x2="1930.08" y2="836" stroke="#2f7d3b" stroke-width="1.8"/>
<line x1="1923.08" y1="820.8" x2="1937.08" y2="820.8" stroke="#2f7d3b" stroke-width="1.8"/>
<line x1="1923.08" y1="836" x2="1937.08" y2="836" stroke="#2f7d3b" stroke-width="1.8"/>
<polyline points="1675.6,902 1718.01,845 1760.43,774 1802.84,786 1930.08,823.5" fill="none" stroke="#a7a7ad" stroke-width="3.4" stroke-linejoin="round"/>
<circle cx="1675.6" cy="902" r="6.6" fill="#a7a7ad"/>
<circle cx="1718.01" cy="845" r="6.6" fill="#a7a7ad"/>
<circle cx="1760.43" cy="774" r="6.6" fill="#a7a7ad"/>
<circle cx="1802.84" cy="786" r="6.6" fill="#a7a7ad"/>
<circle cx="1930.08" cy="823.5" r="6.6" fill="#a7a7ad"/>
<polyline points="1675.6,902 1718.01,843.3 1760.43,779.7 1802.84,787.5 1930.08,834.8" fill="none" stroke="#8fb84e" stroke-width="3.4" stroke-linejoin="round"/>
<circle cx="1675.6" cy="902" r="6.6" fill="#8fb84e"/>
<circle cx="1718.01" cy="843.3" r="6.6" fill="#8fb84e"/>
<circle cx="1760.43" cy="779.7" r="6.6" fill="#8fb84e"/>
<circle cx="1802.84" cy="787.5" r="6.6" fill="#8fb84e"/>
<circle cx="1930.08" cy="834.8" r="6.6" fill="#8fb84e"/>
<polyline points="1675.6,902 1718.01,832.8 1760.43,775.5 1802.84,786.2 1930.08,828.6" fill="none" stroke="#2f7d3b" stroke-width="3.4" stroke-linejoin="round"/>
<circle cx="1675.6" cy="902" r="6.6" fill="#2f7d3b"/>
<circle cx="1718.01" cy="832.8" r="6.6" fill="#2f7d3b"/>
<circle cx="1760.43" cy="775.5" r="6.6" fill="#2f7d3b"/>
<circle cx="1802.84" cy="786.2" r="6.6" fill="#2f7d3b"/>
<circle cx="1930.08" cy="828.6" r="6.6" fill="#2f7d3b"/>
<polyline points="1675.6,902 1718.01,856.8 1760.43,784 1802.84,798.7 1930.08,841.9" fill="none" stroke="#86a98a" stroke-width="3.4" stroke-linejoin="round"/>
<circle cx="1675.6" cy="902" r="6.6" fill="#86a98a"/>
<circle cx="1718.01" cy="856.8" r="6.6" fill="#86a98a"/>
<circle cx="1760.43" cy="784" r="6.6" fill="#86a98a"/>
<circle cx="1802.84" cy="798.7" r="6.6" fill="#86a98a"/>
<circle cx="1930.08" cy="841.9" r="6.6" fill="#86a98a"/>
<line x1="1789.9" y1="913.3" x2="1813.9" y2="913.3" stroke="#a7a7ad" stroke-width="3.4"/>
<circle cx="1802" cy="913.3" r="4.6" fill="#a7a7ad"/>
<text x="1826.6" y="921.2" font-size="22.8">Glucose medium</text>
<line x1="1789.9" y1="943.85" x2="1813.9" y2="943.85" stroke="#2f7d3b" stroke-width="3.4"/>
<circle cx="1802" cy="943.85" r="4.6" fill="#2f7d3b"/>
<text x="1826.6" y="951.75" font-size="22.8">+ MUC5B</text>
<line x1="1789.9" y1="974.4" x2="1813.9" y2="974.4" stroke="#86a98a" stroke-width="3.4"/>
<circle cx="1802" cy="974.4" r="4.6" fill="#86a98a"/>
<text x="1826.6" y="982.3" font-size="22.8">+ Muc5ac</text>
<line x1="1789.9" y1="1004.95" x2="1813.9" y2="1004.95" stroke="#8fb84e" stroke-width="3.4"/>
<circle cx="1802" cy="1004.95" r="4.6" fill="#8fb84e"/>
<text x="1826.6" y="1012.85" font-size="22.8">+ Muc2</text>
<text x="2.5" y="1275.1" font-size="31.5" style="font-weight:bold;">h.</text>
<text x="62" y="1288.6" font-size="29" style="font-weight:bold;">PCoA Biplot, 48 h Composition</text>
<line x1="53.5" y1="1323.9" x2="53.5" y2="1759.6" stroke="#000" stroke-width="2.4"/>
<line x1="52.3" y1="1758.3" x2="442.3" y2="1758.3" stroke="#000" stroke-width="2.6"/>
<text x="252.2" y="1801.5" font-size="23" text-anchor="middle" style="font-weight:bold;">Principal Coordinate 1 (82.87%)</text>
<text transform="translate(23.4 1530.2) rotate(-90)" font-size="23" text-anchor="middle" style="font-weight:bold;">Principal Coordinate 2 (10.59%)</text>
<circle cx="367.6" cy="1324.1" r="6.2" fill="#d6d6d6"/>
<text x="385" y="1332.5" font-size="22.7">Glucose medium</text>
<circle cx="367.6" cy="1363.5" r="6.2" fill="#2f7d3b"/>
<text x="385" y="1371.9" font-size="22.7">+ MUC5B</text>
<circle cx="367.6" cy="1402.9" r="6.2" fill="#82a88a"/>
<text x="385" y="1411.3" font-size="22.7">+ Muc5ac</text>
<circle cx="367.6" cy="1442.3" r="6.2" fill="#8fb84e"/>
<text x="385" y="1450.7" font-size="22.7">+ Muc2</text>
<circle cx="200.1" cy="1467.4" r="4.9" fill="#d9d9d9"/>
<circle cx="205.5" cy="1482.2" r="4.9" fill="#d9d9d9"/>
<circle cx="88.8" cy="1534.9" r="4.9" fill="#d9d9d9"/>
<circle cx="75.3" cy="1543.6" r="4.9" fill="#d9d9d9"/>
<circle cx="220.5" cy="1510" r="4.9" fill="#2f7d3b"/>
<circle cx="255.9" cy="1507.5" r="4.9" fill="#2f7d3b"/>
<circle cx="115.4" cy="1549.9" r="4.9" fill="#2f7d3b"/>
<circle cx="153.1" cy="1556.2" r="4.9" fill="#2f7d3b"/>
<circle cx="188.2" cy="1536.4" r="4.9" fill="#82a88a"/>
<circle cx="128.6" cy="1560" r="4.9" fill="#82a88a"/>
<circle cx="262.3" cy="1529.6" r="4.9" fill="#82a88a"/>
<circle cx="278" cy="1529.9" r="4.9" fill="#82a88a"/>
<circle cx="293.8" cy="1543.2" r="4.9" fill="#8fb84e"/>
<circle cx="389.9" cy="1545.8" r="4.9" fill="#8fb84e"/>
<circle cx="427.5" cy="1551.5" r="4.9" fill="#8fb84e"/>
<circle cx="221.1" cy="1624.3" r="4.9" fill="#8fb84e"/>
<line x1="218.8" y1="1535.1" x2="64.21" y2="1329.59" stroke="#e8ca44" stroke-width="1.8"/>
<polygon points="58.2,1321.6 69.47,1326.26 59.56,1333.72" fill="#e5c010"/>
<line x1="218.8" y1="1535.1" x2="83.08" y2="1407.45" stroke="#e8ca44" stroke-width="1.8"/>
<polygon points="75.8,1400.6 87.7,1403.28 79.2,1412.31" fill="#e5c010"/>
<line x1="218.8" y1="1535.1" x2="353.25" y2="1742.21" stroke="#7cbcf4" stroke-width="1.8"/>
<polygon points="358.7,1750.6 347.78,1745.17 358.18,1738.42" fill="#5aacf8"/>
<line x1="218.8" y1="1535.1" x2="314.35" y2="1693.93" stroke="#7cbcf4" stroke-width="1.8"/>
<polygon points="319.5,1702.5 308.77,1696.7 319.4,1690.31" fill="#5aacf8"/>
<line x1="218.8" y1="1535.1" x2="219.99" y2="1524.67" stroke="#f5c49a" stroke-width="1.4"/>
<polygon points="220.5,1520.2 223.11,1525.53 216.75,1524.81" fill="#f5bd8a"/>
<text x="74.6" y="1332.5" font-size="22.5" fill="#a9a9a9">1<tspan dy="-6.6" font-size="14.5">st</tspan></text>
<text x="63.6" y="1435.5" font-size="22.5" fill="#a9a9a9">3<tspan dy="-6.6" font-size="14.5">rd</tspan></text>
<text x="365.6" y="1745" font-size="22.5" fill="#a9a9a9">2<tspan dy="-6.6" font-size="14.5">nd</tspan></text>
<text x="298.8" y="1723.5" font-size="22.5" fill="#a9a9a9">4<tspan dy="-6.6" font-size="14.5">th</tspan></text>
<text x="229.3" y="1529.3" font-size="22.5" fill="#a9a9a9">5<tspan dy="-6.6" font-size="14.5">th</tspan></text>
<text x="105.8" y="1371.1" font-size="22.9" fill="#e0b820" style="font-weight:bold;">Salivarius group</text>
<text x="172.8" y="1691" font-size="22.5" fill="#6db3f2" style="font-weight:bold;">Mitis group</text>
<text x="279.5" y="1584.4" font-size="22.9" fill="#f1b27f" style="font-weight:bold"><tspan style="font-style:italic">Streptococcus</tspan> other</text>
<line x1="223.2" y1="1531" x2="279.7" y2="1562.8" stroke="#000" stroke-width="2.2"/>
<text x="577.5" y="1276.5" font-size="31.5" style="font-weight:bold;">i.</text>
<text x="773.8" y="1316.3" font-size="28.8" text-anchor="middle" style="font-weight:bold;">Glucose medium</text>
<line x1="655.8" y1="1354.4" x2="655.8" y2="1616.5" stroke="#000" stroke-width="2.6"/>
<line x1="645.2" y1="1615.2" x2="655.8" y2="1615.2" stroke="#000" stroke-width="2.6"/>
<text x="641.6" y="1622.1" font-size="18.6" text-anchor="end" style="font-weight:bold;">0</text>
<line x1="645.2" y1="1563.3" x2="655.8" y2="1563.3" stroke="#000" stroke-width="2.6"/>
<text x="641.6" y="1570.2" font-size="18.6" text-anchor="end" style="font-weight:bold;">20</text>
<line x1="645.2" y1="1511.4" x2="655.8" y2="1511.4" stroke="#000" stroke-width="2.6"/>
<text x="641.6" y="1518.3" font-size="18.6" text-anchor="end" style="font-weight:bold;">40</text>
<line x1="645.2" y1="1459.5" x2="655.8" y2="1459.5" stroke="#000" stroke-width="2.6"/>
<text x="641.6" y="1466.4" font-size="18.6" text-anchor="end" style="font-weight:bold;">60</text>
<line x1="645.2" y1="1407.6" x2="655.8" y2="1407.6" stroke="#000" stroke-width="2.6"/>
<text x="641.6" y="1414.5" font-size="18.6" text-anchor="end" style="font-weight:bold;">80</text>
<line x1="645.2" y1="1355.7" x2="655.8" y2="1355.7" stroke="#000" stroke-width="2.6"/>
<text x="641.6" y="1362.6" font-size="18.6" text-anchor="end" style="font-weight:bold;">100</text>
<line x1="645.2" y1="1615.2" x2="916.7" y2="1615.2" stroke="#000" stroke-width="2.6"/>
<line x1="688.2" y1="1615.2" x2="688.2" y2="1626.2" stroke="#000" stroke-width="2.6"/>
<text x="688.2" y="1647.6" font-size="22.7" text-anchor="middle" style="font-weight:bold;">0</text>
<line x1="736.5" y1="1615.2" x2="736.5" y2="1626.2" stroke="#000" stroke-width="2.6"/>
<text x="736.5" y="1647.6" font-size="22.7" text-anchor="middle" style="font-weight:bold;">8</text>
<line x1="785.3" y1="1615.2" x2="785.3" y2="1626.2" stroke="#000" stroke-width="2.6"/>
<text x="785.3" y="1647.6" font-size="22.7" text-anchor="middle" style="font-weight:bold;">16</text>
<line x1="834" y1="1615.2" x2="834" y2="1626.2" stroke="#000" stroke-width="2.6"/>
<text x="834" y="1647.6" font-size="22.7" text-anchor="middle" style="font-weight:bold;">24</text>
<line x1="882.7" y1="1615.2" x2="882.7" y2="1626.2" stroke="#000" stroke-width="2.6"/>
<text x="882.7" y="1647.6" font-size="22.7" text-anchor="middle" style="font-weight:bold;">48</text>
<text x="778.6" y="1677" font-size="22.7" text-anchor="middle" style="font-weight:bold;">Time [h]</text>
<text transform="translate(596.5 1487.45) rotate(-90)" font-size="23" text-anchor="middle" style="font-weight:bold;">Relative Abundance (%)</text>
<line x1="688.2" y1="1480.26" x2="688.2" y2="1462.1" stroke="#6cadf6" stroke-width="1.3"/>
<line x1="682.6" y1="1462.1" x2="693.8" y2="1462.1" stroke="#6cadf6" stroke-width="1.3"/>
<line x1="736.5" y1="1432.25" x2="736.5" y2="1424.47" stroke="#6cadf6" stroke-width="1.3"/>
<line x1="730.9" y1="1424.47" x2="742.1" y2="1424.47" stroke="#6cadf6" stroke-width="1.3"/>
<line x1="785.3" y1="1551.62" x2="785.3" y2="1533.46" stroke="#6cadf6" stroke-width="1.3"/>
<line x1="779.7" y1="1533.46" x2="790.9" y2="1533.46" stroke="#6cadf6" stroke-width="1.3"/>
<line x1="834" y1="1569.79" x2="834" y2="1556.81" stroke="#6cadf6" stroke-width="1.3"/>
<line x1="828.4" y1="1556.81" x2="839.6" y2="1556.81" stroke="#6cadf6" stroke-width="1.3"/>
<line x1="882.7" y1="1586.65" x2="882.7" y2="1576.28" stroke="#6cadf6" stroke-width="1.3"/>
<line x1="877.1" y1="1576.28" x2="888.3" y2="1576.28" stroke="#6cadf6" stroke-width="1.3"/>
<line x1="736.5" y1="1587.95" x2="736.5" y2="1573.68" stroke="#f6c900" stroke-width="1.3"/>
<line x1="730.9" y1="1573.68" x2="742.1" y2="1573.68" stroke="#f6c900" stroke-width="1.3"/>
<line x1="785.3" y1="1441.34" x2="785.3" y2="1412.79" stroke="#f6c900" stroke-width="1.3"/>
<line x1="779.7" y1="1412.79" x2="790.9" y2="1412.79" stroke="#f6c900" stroke-width="1.3"/>
<line x1="834" y1="1421.87" x2="834" y2="1395.92" stroke="#f6c900" stroke-width="1.3"/>
<line x1="828.4" y1="1395.92" x2="839.6" y2="1395.92" stroke="#f6c900" stroke-width="1.3"/>
<line x1="882.7" y1="1397.22" x2="882.7" y2="1379.06" stroke="#f6c900" stroke-width="1.3"/>
<line x1="877.1" y1="1379.06" x2="888.3" y2="1379.06" stroke="#f6c900" stroke-width="1.3"/>
<polyline points="688.2,1480.26 736.5,1432.25 785.3,1551.62 834,1569.79 882.7,1586.65" fill="none" stroke="#6cadf6" stroke-width="2.6" stroke-linejoin="round"/>
<polyline points="688.2,1611.31 736.5,1587.95 785.3,1441.34 834,1421.87 882.7,1397.22" fill="none" stroke="#f6c900" stroke-width="2.6" stroke-linejoin="round"/>
<rect x="682.9" y="1474.96" width="10.6" height="10.6" fill="#6cadf6"/>
<rect x="731.2" y="1426.95" width="10.6" height="10.6" fill="#6cadf6"/>
<rect x="780" y="1546.32" width="10.6" height="10.6" fill="#6cadf6"/>
<rect x="828.7" y="1564.49" width="10.6" height="10.6" fill="#6cadf6"/>
<rect x="877.4" y="1581.36" width="10.6" height="10.6" fill="#6cadf6"/>
<circle cx="688.2" cy="1611.31" r="5.5" fill="#f6c900"/>
<circle cx="736.5" cy="1587.95" r="5.5" fill="#f6c900"/>
<circle cx="785.3" cy="1441.34" r="5.5" fill="#f6c900"/>
<circle cx="834" cy="1421.87" r="5.5" fill="#f6c900"/>
<circle cx="882.7" cy="1397.22" r="5.5" fill="#f6c900"/>
<text x="951.5" y="1276.5" font-size="31.5" style="font-weight:bold;">j.</text>
<text x="1146.1" y="1316.3" font-size="28.8" text-anchor="middle" style="font-weight:bold;">+ MUC5B</text>
<line x1="1018.4" y1="1350.8" x2="1018.4" y2="1622" stroke="#000" stroke-width="2.6"/>
<line x1="1007.7" y1="1620.7" x2="1018.4" y2="1620.7" stroke="#000" stroke-width="2.6"/>
<text x="1004.1" y="1627.6" font-size="18.6" text-anchor="end" style="font-weight:bold;">0</text>
<line x1="1007.7" y1="1566.98" x2="1018.4" y2="1566.98" stroke="#000" stroke-width="2.6"/>
<text x="1004.1" y="1573.88" font-size="18.6" text-anchor="end" style="font-weight:bold;">20</text>
<line x1="1007.7" y1="1513.26" x2="1018.4" y2="1513.26" stroke="#000" stroke-width="2.6"/>
<text x="1004.1" y="1520.16" font-size="18.6" text-anchor="end" style="font-weight:bold;">40</text>
<line x1="1007.7" y1="1459.54" x2="1018.4" y2="1459.54" stroke="#000" stroke-width="2.6"/>
<text x="1004.1" y="1466.44" font-size="18.6" text-anchor="end" style="font-weight:bold;">60</text>
<line x1="1007.7" y1="1405.82" x2="1018.4" y2="1405.82" stroke="#000" stroke-width="2.6"/>
<text x="1004.1" y="1412.72" font-size="18.6" text-anchor="end" style="font-weight:bold;">80</text>
<line x1="1007.7" y1="1352.1" x2="1018.4" y2="1352.1" stroke="#000" stroke-width="2.6"/>
<text x="1004.1" y="1359" font-size="18.6" text-anchor="end" style="font-weight:bold;">100</text>
<line x1="1007.7" y1="1620.7" x2="1289.2" y2="1620.7" stroke="#000" stroke-width="2.6"/>
<line x1="1052.8" y1="1620.7" x2="1052.8" y2="1631.7" stroke="#000" stroke-width="2.6"/>
<text x="1052.8" y="1654" font-size="22.7" text-anchor="middle" style="font-weight:bold;">0</text>
<line x1="1102.9" y1="1620.7" x2="1102.9" y2="1631.7" stroke="#000" stroke-width="2.6"/>
<text x="1102.9" y="1654" font-size="22.7" text-anchor="middle" style="font-weight:bold;">8</text>
<line x1="1153.8" y1="1620.7" x2="1153.8" y2="1631.7" stroke="#000" stroke-width="2.6"/>
<text x="1153.8" y="1654" font-size="22.7" text-anchor="middle" style="font-weight:bold;">16</text>
<line x1="1204" y1="1620.7" x2="1204" y2="1631.7" stroke="#000" stroke-width="2.6"/>
<text x="1204" y="1654" font-size="22.7" text-anchor="middle" style="font-weight:bold;">24</text>
<line x1="1254.1" y1="1620.7" x2="1254.1" y2="1631.7" stroke="#000" stroke-width="2.6"/>
<text x="1254.1" y="1654" font-size="22.7" text-anchor="middle" style="font-weight:bold;">48</text>
<text x="1155.6" y="1677" font-size="22.7" text-anchor="middle" style="font-weight:bold;">Time [h]</text>
<text transform="translate(963.5 1488.4) rotate(-90)" font-size="23" text-anchor="middle" style="font-weight:bold;">Relative Abundance (%)</text>
<polyline points="1052.8,1616.67 1102.9,1592.5 1153.8,1440.74 1204,1420.59 1254.1,1395.08" fill="none" stroke="#f6c900" stroke-width="2.9" stroke-linejoin="round" stroke-dasharray="0 7.9" stroke-linecap="round"/>
<polyline points="1052.8,1481.03 1102.9,1431.34 1153.8,1554.89 1204,1573.69 1254.1,1591.15" fill="none" stroke="#6cadf6" stroke-width="2.9" stroke-linejoin="round" stroke-dasharray="0 7.9" stroke-linecap="round"/>
<line x1="1052.8" y1="1481.03" x2="1052.8" y2="1462.23" stroke="#6cadf6" stroke-width="1.3"/>
<line x1="1047.2" y1="1462.23" x2="1058.4" y2="1462.23" stroke="#6cadf6" stroke-width="1.3"/>
<line x1="1102.9" y1="1423.28" x2="1102.9" y2="1412.53" stroke="#6cadf6" stroke-width="1.3"/>
<line x1="1097.3" y1="1412.53" x2="1108.5" y2="1412.53" stroke="#6cadf6" stroke-width="1.3"/>
<line x1="1153.8" y1="1524" x2="1153.8" y2="1491.77" stroke="#6cadf6" stroke-width="1.3"/>
<line x1="1148.2" y1="1491.77" x2="1159.4" y2="1491.77" stroke="#6cadf6" stroke-width="1.3"/>
<line x1="1254.1" y1="1554.89" x2="1254.1" y2="1540.12" stroke="#6cadf6" stroke-width="1.3"/>
<line x1="1248.5" y1="1540.12" x2="1259.7" y2="1540.12" stroke="#6cadf6" stroke-width="1.3"/>
<line x1="1102.9" y1="1591.15" x2="1102.9" y2="1572.35" stroke="#f6c900" stroke-width="1.3"/>
<line x1="1097.3" y1="1572.35" x2="1108.5" y2="1572.35" stroke="#f6c900" stroke-width="1.3"/>
<line x1="1153.8" y1="1474.31" x2="1153.8" y2="1427.31" stroke="#f6c900" stroke-width="1.3"/>
<line x1="1148.2" y1="1427.31" x2="1159.4" y2="1427.31" stroke="#f6c900" stroke-width="1.3"/>
<line x1="1204" y1="1432.68" x2="1204" y2="1424.62" stroke="#f6c900" stroke-width="1.3"/>
<line x1="1198.4" y1="1424.62" x2="1209.6" y2="1424.62" stroke="#f6c900" stroke-width="1.3"/>
<line x1="1254.1" y1="1435.37" x2="1254.1" y2="1412.53" stroke="#f6c900" stroke-width="1.3"/>
<line x1="1248.5" y1="1412.53" x2="1259.7" y2="1412.53" stroke="#f6c900" stroke-width="1.3"/>
<polyline points="1052.8,1481.03 1102.9,1423.28 1153.8,1524 1204,1556.24 1254.1,1554.89" fill="none" stroke="#6cadf6" stroke-width="2.6" stroke-linejoin="round"/>
<polyline points="1052.8,1615.33 1102.9,1591.15 1153.8,1474.31 1204,1432.68 1254.1,1435.37" fill="none" stroke="#f6c900" stroke-width="2.6" stroke-linejoin="round"/>
<rect x="1047.5" y="1475.73" width="10.6" height="10.6" fill="#6cadf6"/>
<rect x="1097.6" y="1417.98" width="10.6" height="10.6" fill="#6cadf6"/>
<rect x="1148.5" y="1518.7" width="10.6" height="10.6" fill="#6cadf6"/>
<rect x="1198.7" y="1550.94" width="10.6" height="10.6" fill="#6cadf6"/>
<rect x="1248.8" y="1549.59" width="10.6" height="10.6" fill="#6cadf6"/>
<circle cx="1052.8" cy="1615.33" r="5.5" fill="#f6c900"/>
<circle cx="1102.9" cy="1591.15" r="5.5" fill="#f6c900"/>
<circle cx="1153.8" cy="1474.31" r="5.5" fill="#f6c900"/>
<circle cx="1204" cy="1432.68" r="5.5" fill="#f6c900"/>
<circle cx="1254.1" cy="1435.37" r="5.5" fill="#f6c900"/>
<text x="1337" y="1276.5" font-size="31.5" style="font-weight:bold;">k.</text>
<text x="1521.8" y="1316.3" font-size="28.8" text-anchor="middle" style="font-weight:bold;">+ Muc5ac</text>
<line x1="1394.9" y1="1344.7" x2="1394.9" y2="1615.9" stroke="#000" stroke-width="2.6"/>
<line x1="1383.3" y1="1614.6" x2="1394.9" y2="1614.6" stroke="#000" stroke-width="2.6"/>
<text x="1379.7" y="1621.5" font-size="18.6" text-anchor="end" style="font-weight:bold;">0</text>
<line x1="1383.3" y1="1560.88" x2="1394.9" y2="1560.88" stroke="#000" stroke-width="2.6"/>
<text x="1379.7" y="1567.78" font-size="18.6" text-anchor="end" style="font-weight:bold;">20</text>
<line x1="1383.3" y1="1507.16" x2="1394.9" y2="1507.16" stroke="#000" stroke-width="2.6"/>
<text x="1379.7" y="1514.06" font-size="18.6" text-anchor="end" style="font-weight:bold;">40</text>
<line x1="1383.3" y1="1453.44" x2="1394.9" y2="1453.44" stroke="#000" stroke-width="2.6"/>
<text x="1379.7" y="1460.34" font-size="18.6" text-anchor="end" style="font-weight:bold;">60</text>
<line x1="1383.3" y1="1399.72" x2="1394.9" y2="1399.72" stroke="#000" stroke-width="2.6"/>
<text x="1379.7" y="1406.62" font-size="18.6" text-anchor="end" style="font-weight:bold;">80</text>
<line x1="1383.3" y1="1346" x2="1394.9" y2="1346" stroke="#000" stroke-width="2.6"/>
<text x="1379.7" y="1352.9" font-size="18.6" text-anchor="end" style="font-weight:bold;">100</text>
<line x1="1383.3" y1="1614.6" x2="1664.6" y2="1614.6" stroke="#000" stroke-width="2.6"/>
<line x1="1428.5" y1="1614.6" x2="1428.5" y2="1625.6" stroke="#000" stroke-width="2.6"/>
<text x="1428.5" y="1648.3" font-size="22.7" text-anchor="middle" style="font-weight:bold;">0</text>
<line x1="1478.5" y1="1614.6" x2="1478.5" y2="1625.6" stroke="#000" stroke-width="2.6"/>
<text x="1478.5" y="1648.3" font-size="22.7" text-anchor="middle" style="font-weight:bold;">8</text>
<line x1="1529.2" y1="1614.6" x2="1529.2" y2="1625.6" stroke="#000" stroke-width="2.6"/>
<text x="1529.2" y="1648.3" font-size="22.7" text-anchor="middle" style="font-weight:bold;">16</text>
<line x1="1579.5" y1="1614.6" x2="1579.5" y2="1625.6" stroke="#000" stroke-width="2.6"/>
<text x="1579.5" y="1648.3" font-size="22.7" text-anchor="middle" style="font-weight:bold;">24</text>
<line x1="1630.2" y1="1614.6" x2="1630.2" y2="1625.6" stroke="#000" stroke-width="2.6"/>
<text x="1630.2" y="1648.3" font-size="22.7" text-anchor="middle" style="font-weight:bold;">48</text>
<text x="1532.1" y="1677" font-size="22.7" text-anchor="middle" style="font-weight:bold;">Time [h]</text>
<text transform="translate(1337.5 1482.3) rotate(-90)" font-size="23" text-anchor="middle" style="font-weight:bold;">Relative Abundance (%)</text>
<polyline points="1428.5,1610.57 1478.5,1586.4 1529.2,1434.64 1579.5,1414.49 1630.2,1388.98" fill="none" stroke="#f6c900" stroke-width="2.9" stroke-linejoin="round" stroke-dasharray="0 7.9" stroke-linecap="round"/>
<polyline points="1428.5,1474.93 1478.5,1425.24 1529.2,1548.79 1579.5,1567.6 1630.2,1585.05" fill="none" stroke="#6cadf6" stroke-width="2.9" stroke-linejoin="round" stroke-dasharray="0 7.9" stroke-linecap="round"/>
<line x1="1428.5" y1="1474.93" x2="1428.5" y2="1456.13" stroke="#6cadf6" stroke-width="1.3"/>
<line x1="1422.9" y1="1456.13" x2="1434.1" y2="1456.13" stroke="#6cadf6" stroke-width="1.3"/>
<line x1="1529.2" y1="1499.1" x2="1529.2" y2="1460.15" stroke="#6cadf6" stroke-width="1.3"/>
<line x1="1523.6" y1="1460.15" x2="1534.8" y2="1460.15" stroke="#6cadf6" stroke-width="1.3"/>
<line x1="1579.5" y1="1528.65" x2="1579.5" y2="1507.16" stroke="#6cadf6" stroke-width="1.3"/>
<line x1="1573.9" y1="1507.16" x2="1585.1" y2="1507.16" stroke="#6cadf6" stroke-width="1.3"/>
<line x1="1630.2" y1="1528.65" x2="1630.2" y2="1503.13" stroke="#6cadf6" stroke-width="1.3"/>
<line x1="1624.6" y1="1503.13" x2="1635.8" y2="1503.13" stroke="#6cadf6" stroke-width="1.3"/>
<line x1="1478.5" y1="1597.14" x2="1478.5" y2="1583.71" stroke="#f6c900" stroke-width="1.3"/>
<line x1="1472.9" y1="1583.71" x2="1484.1" y2="1583.71" stroke="#f6c900" stroke-width="1.3"/>
<line x1="1529.2" y1="1488.36" x2="1529.2" y2="1438.67" stroke="#f6c900" stroke-width="1.3"/>
<line x1="1523.6" y1="1438.67" x2="1534.8" y2="1438.67" stroke="#f6c900" stroke-width="1.3"/>
<line x1="1579.5" y1="1452.1" x2="1579.5" y2="1423.89" stroke="#f6c900" stroke-width="1.3"/>
<line x1="1573.9" y1="1423.89" x2="1585.1" y2="1423.89" stroke="#f6c900" stroke-width="1.3"/>
<line x1="1630.2" y1="1453.44" x2="1630.2" y2="1419.87" stroke="#f6c900" stroke-width="1.3"/>
<line x1="1624.6" y1="1419.87" x2="1635.8" y2="1419.87" stroke="#f6c900" stroke-width="1.3"/>
<polyline points="1428.5,1474.93 1478.5,1407.78 1529.2,1499.1 1579.5,1528.65 1630.2,1528.65" fill="none" stroke="#6cadf6" stroke-width="2.6" stroke-linejoin="round"/>
<polyline points="1428.5,1610.57 1478.5,1597.14 1529.2,1488.36 1579.5,1452.1 1630.2,1453.44" fill="none" stroke="#f6c900" stroke-width="2.6" stroke-linejoin="round"/>
<rect x="1423.2" y="1469.63" width="10.6" height="10.6" fill="#6cadf6"/>
<rect x="1473.2" y="1402.48" width="10.6" height="10.6" fill="#6cadf6"/>
<rect x="1523.9" y="1493.8" width="10.6" height="10.6" fill="#6cadf6"/>
<rect x="1574.2" y="1523.35" width="10.6" height="10.6" fill="#6cadf6"/>
<rect x="1624.9" y="1523.35" width="10.6" height="10.6" fill="#6cadf6"/>
<circle cx="1428.5" cy="1610.57" r="5.5" fill="#f6c900"/>
<circle cx="1478.5" cy="1597.14" r="5.5" fill="#f6c900"/>
<circle cx="1529.2" cy="1488.36" r="5.5" fill="#f6c900"/>
<circle cx="1579.5" cy="1452.1" r="5.5" fill="#f6c900"/>
<circle cx="1630.2" cy="1453.44" r="5.5" fill="#f6c900"/>
<text x="1699" y="1276.5" font-size="31.5" style="font-weight:bold;">l.</text>
<text x="1892.5" y="1316.3" font-size="28.8" text-anchor="middle" style="font-weight:bold;">+ Muc2</text>
<line x1="1764.5" y1="1345.7" x2="1764.5" y2="1619.9" stroke="#000" stroke-width="2.6"/>
<line x1="1753.3" y1="1618.6" x2="1764.5" y2="1618.6" stroke="#000" stroke-width="2.6"/>
<text x="1749.7" y="1625.5" font-size="18.6" text-anchor="end" style="font-weight:bold;">0</text>
<line x1="1753.3" y1="1564.28" x2="1764.5" y2="1564.28" stroke="#000" stroke-width="2.6"/>
<text x="1749.7" y="1571.18" font-size="18.6" text-anchor="end" style="font-weight:bold;">20</text>
<line x1="1753.3" y1="1509.96" x2="1764.5" y2="1509.96" stroke="#000" stroke-width="2.6"/>
<text x="1749.7" y="1516.86" font-size="18.6" text-anchor="end" style="font-weight:bold;">40</text>
<line x1="1753.3" y1="1455.64" x2="1764.5" y2="1455.64" stroke="#000" stroke-width="2.6"/>
<text x="1749.7" y="1462.54" font-size="18.6" text-anchor="end" style="font-weight:bold;">60</text>
<line x1="1753.3" y1="1401.32" x2="1764.5" y2="1401.32" stroke="#000" stroke-width="2.6"/>
<text x="1749.7" y="1408.22" font-size="18.6" text-anchor="end" style="font-weight:bold;">80</text>
<line x1="1753.3" y1="1347" x2="1764.5" y2="1347" stroke="#000" stroke-width="2.6"/>
<text x="1749.7" y="1353.9" font-size="18.6" text-anchor="end" style="font-weight:bold;">100</text>
<line x1="1753.3" y1="1618.6" x2="2038" y2="1618.6" stroke="#000" stroke-width="2.6"/>
<line x1="1798.9" y1="1618.6" x2="1798.9" y2="1629.6" stroke="#000" stroke-width="2.6"/>
<text x="1798.9" y="1651.2" font-size="22.7" text-anchor="middle" style="font-weight:bold;">0</text>
<line x1="1849.6" y1="1618.6" x2="1849.6" y2="1629.6" stroke="#000" stroke-width="2.6"/>
<text x="1849.6" y="1651.2" font-size="22.7" text-anchor="middle" style="font-weight:bold;">8</text>
<line x1="1900.3" y1="1618.6" x2="1900.3" y2="1629.6" stroke="#000" stroke-width="2.6"/>
<text x="1900.3" y="1651.2" font-size="22.7" text-anchor="middle" style="font-weight:bold;">16</text>
<line x1="1951.7" y1="1618.6" x2="1951.7" y2="1629.6" stroke="#000" stroke-width="2.6"/>
<text x="1951.7" y="1651.2" font-size="22.7" text-anchor="middle" style="font-weight:bold;">24</text>
<line x1="2002.4" y1="1618.6" x2="2002.4" y2="1629.6" stroke="#000" stroke-width="2.6"/>
<text x="2002.4" y="1651.2" font-size="22.7" text-anchor="middle" style="font-weight:bold;">48</text>
<text x="1895" y="1677" font-size="22.7" text-anchor="middle" style="font-weight:bold;">Time [h]</text>
<text transform="translate(1707 1484.8) rotate(-90)" font-size="23" text-anchor="middle" style="font-weight:bold;">Relative Abundance (%)</text>
<polyline points="1798.9,1614.53 1849.6,1590.08 1900.3,1436.63 1951.7,1416.26 2002.4,1390.46" fill="none" stroke="#f6c900" stroke-width="2.9" stroke-linejoin="round" stroke-dasharray="0 7.9" stroke-linecap="round"/>
<polyline points="1798.9,1477.37 1849.6,1427.12 1900.3,1552.06 1951.7,1571.07 2002.4,1588.72" fill="none" stroke="#6cadf6" stroke-width="2.9" stroke-linejoin="round" stroke-dasharray="0 7.9" stroke-linecap="round"/>
<line x1="1798.9" y1="1477.37" x2="1798.9" y2="1458.36" stroke="#6cadf6" stroke-width="1.3"/>
<line x1="1793.3" y1="1458.36" x2="1804.5" y2="1458.36" stroke="#6cadf6" stroke-width="1.3"/>
<line x1="1900.3" y1="1447.49" x2="1900.3" y2="1423.05" stroke="#6cadf6" stroke-width="1.3"/>
<line x1="1894.7" y1="1423.05" x2="1905.9" y2="1423.05" stroke="#6cadf6" stroke-width="1.3"/>
<line x1="1951.7" y1="1458.36" x2="1951.7" y2="1439.34" stroke="#6cadf6" stroke-width="1.3"/>
<line x1="1946.1" y1="1439.34" x2="1957.3" y2="1439.34" stroke="#6cadf6" stroke-width="1.3"/>
<line x1="2002.4" y1="1463.79" x2="2002.4" y2="1435.27" stroke="#6cadf6" stroke-width="1.3"/>
<line x1="1996.8" y1="1435.27" x2="2008" y2="1435.27" stroke="#6cadf6" stroke-width="1.3"/>
<line x1="1849.6" y1="1595.51" x2="1849.6" y2="1581.93" stroke="#f6c900" stroke-width="1.3"/>
<line x1="1844" y1="1581.93" x2="1855.2" y2="1581.93" stroke="#f6c900" stroke-width="1.3"/>
<line x1="1900.3" y1="1546.63" x2="1900.3" y2="1509.96" stroke="#f6c900" stroke-width="1.3"/>
<line x1="1894.7" y1="1509.96" x2="1905.9" y2="1509.96" stroke="#f6c900" stroke-width="1.3"/>
<line x1="1951.7" y1="1533.05" x2="1951.7" y2="1501.81" stroke="#f6c900" stroke-width="1.3"/>
<line x1="1946.1" y1="1501.81" x2="1957.3" y2="1501.81" stroke="#f6c900" stroke-width="1.3"/>
<line x1="2002.4" y1="1531.69" x2="2002.4" y2="1496.38" stroke="#f6c900" stroke-width="1.3"/>
<line x1="1996.8" y1="1496.38" x2="2008" y2="1496.38" stroke="#f6c900" stroke-width="1.3"/>
<polyline points="1798.9,1477.37 1849.6,1412.18 1900.3,1447.49 1951.7,1458.36 2002.4,1463.79" fill="none" stroke="#6cadf6" stroke-width="2.6" stroke-linejoin="round"/>
<polyline points="1798.9,1614.53 1849.6,1595.51 1900.3,1546.63 1951.7,1533.05 2002.4,1531.69" fill="none" stroke="#f6c900" stroke-width="2.6" stroke-linejoin="round"/>
<rect x="1793.6" y="1472.07" width="10.6" height="10.6" fill="#6cadf6"/>
<rect x="1844.3" y="1406.88" width="10.6" height="10.6" fill="#6cadf6"/>
<rect x="1895" y="1442.19" width="10.6" height="10.6" fill="#6cadf6"/>
<rect x="1946.4" y="1453.06" width="10.6" height="10.6" fill="#6cadf6"/>
<rect x="1997.1" y="1458.49" width="10.6" height="10.6" fill="#6cadf6"/>
<circle cx="1798.9" cy="1614.53" r="5.5" fill="#f6c900"/>
<circle cx="1849.6" cy="1595.51" r="5.5" fill="#f6c900"/>
<circle cx="1900.3" cy="1546.63" r="5.5" fill="#f6c900"/>
<circle cx="1951.7" cy="1533.05" r="5.5" fill="#f6c900"/>
<circle cx="2002.4" cy="1531.69" r="5.5" fill="#f6c900"/>
<line x1="909" y1="1726" x2="940" y2="1726" stroke="#f6c900" stroke-width="3.2"/>
<circle cx="925" cy="1726" r="5.8" fill="#f6c900"/>
<text x="951" y="1734" font-size="23">Salivarius group</text>
<line x1="909" y1="1766" x2="940" y2="1766" stroke="#6cadf6" stroke-width="3.2"/>
<rect x="919" y="1760" width="12" height="12" fill="#6cadf6"/>
<text x="952.4" y="1772.6" font-size="23.1">Mitis/Parasanguinis group</text>
<circle cx="1264.4" cy="1725" r="2.8" fill="#f6c900"/>
<circle cx="1264.4" cy="1766.6" r="2.8" fill="#6cadf6"/>
<circle cx="1284.4" cy="1725" r="2.8" fill="#f6c900"/>
<circle cx="1284.4" cy="1766.6" r="2.8" fill="#6cadf6"/>
<circle cx="1304.4" cy="1725" r="2.8" fill="#f6c900"/>
<circle cx="1304.4" cy="1766.6" r="2.8" fill="#6cadf6"/>
<text x="1319.8" y="1732.5" font-size="23.1">Salivarius group in glucose medium alone</text>
<text x="1319.8" y="1774" font-size="23.1">Mitis/Parasanguinis group in glucose medium alone</text>
</svg>
</body></html>
